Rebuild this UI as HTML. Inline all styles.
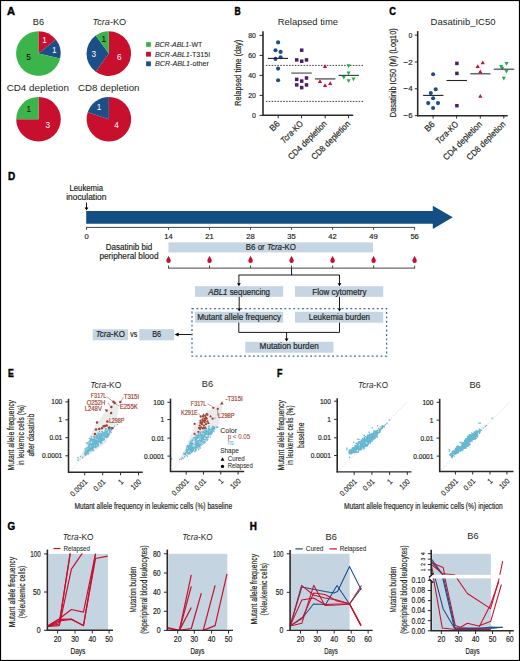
<!DOCTYPE html>
<html><head><meta charset="utf-8"><title>Figure</title>
<style>html,body{margin:0;padding:0;background:#fff;}body{width:520px;height:661px;overflow:hidden;font-family:"Liberation Sans",sans-serif;}svg{display:block;}</style>
</head><body>
<svg width="520" height="661" viewBox="0 0 520 661" font-family="Liberation Sans, sans-serif" fill="#231f20">
<style>text{stroke:#231f20;stroke-width:0.18px}</style>
<rect x="0" y="0" width="520" height="661" fill="#fff"/>
<text x="7.1" y="14.8" font-size="10.3" font-weight="bold" fill="#000" style="stroke:#000;stroke-width:0.4px" textLength="8.02" lengthAdjust="spacingAndGlyphs">A</text>
<text x="38.4" y="24.9" font-size="9.2" text-anchor="middle" style="stroke-width:0px" >B6</text>
<text x="92.5" y="25" font-size="9.2" style="stroke-width:0" textLength="33.7" lengthAdjust="spacingAndGlyphs"><tspan font-style="italic">Tcra</tspan>-KO</text>
<text x="6.7" y="90.8" font-size="9.2" style="stroke-width:0px" textLength="62.2" lengthAdjust="spacingAndGlyphs" >CD4 depletion</text>
<text x="78.1" y="90.8" font-size="9.2" style="stroke-width:0px" textLength="61.4" lengthAdjust="spacingAndGlyphs" >CD8 depletion</text>
<path d="M38.4 53.5 L38.4 31.2 A22.3 22.3 0 0 1 55.83 39.6 Z" fill="#c8102e"/>
<path d="M38.4 53.5 L55.83 39.6 A22.3 22.3 0 0 1 60.14 58.46 Z" fill="#1c4f88"/>
<path d="M38.4 53.5 L60.14 58.46 A22.3 22.3 0 1 1 38.4 31.2 Z" fill="#3bb54a"/>
<path d="M108.8 53.6 L108.8 31.3 A22.3 22.3 0 1 1 95.69 71.64 Z" fill="#c8102e"/>
<path d="M108.8 53.6 L95.69 71.64 A22.3 22.3 0 0 1 95.69 35.56 Z" fill="#1c4f88"/>
<path d="M108.8 53.6 L95.69 35.56 A22.3 22.3 0 0 1 108.8 31.3 Z" fill="#3bb54a"/>
<path d="M38.5 119.2 L38.5 96.9 A22.3 22.3 0 1 1 16.2 119.2 Z" fill="#c8102e"/>
<path d="M38.5 119.2 L16.2 119.2 A22.3 22.3 0 0 1 38.5 96.9 Z" fill="#3bb54a"/>
<path d="M108.9 119.2 L108.9 96.9 A22.3 22.3 0 1 1 87.69 112.31 Z" fill="#c8102e"/>
<path d="M108.9 119.2 L87.69 112.31 A22.3 22.3 0 0 1 108.9 96.9 Z" fill="#1c4f88"/>
<text x="44.6" y="42.9" font-size="8.2" text-anchor="middle" fill="#fff" style="stroke:#fff;stroke-width:0px" >1</text>
<text x="54.4" y="52.7" font-size="8.2" text-anchor="middle" fill="#fff" style="stroke:#fff;stroke-width:0px" >1</text>
<text x="28.5" y="60.4" font-size="8.2" text-anchor="middle" fill="#000" style="stroke:#000;stroke-width:0px" >5</text>
<text x="103.7" y="41.7" font-size="8.2" text-anchor="middle" fill="#000" style="stroke:#000;stroke-width:0px" >1</text>
<text x="93.8" y="57.3" font-size="8.2" text-anchor="middle" fill="#fff" style="stroke:#fff;stroke-width:0px" >3</text>
<text x="119.2" y="60.2" font-size="8.2" text-anchor="middle" fill="#fff" style="stroke:#fff;stroke-width:0px" >6</text>
<text x="28.8" y="112.1" font-size="8.2" text-anchor="middle" fill="#000" style="stroke:#000;stroke-width:0px" >1</text>
<text x="47.7" y="128.2" font-size="8.2" text-anchor="middle" fill="#fff" style="stroke:#fff;stroke-width:0px" >3</text>
<text x="99.1" y="110.2" font-size="8.2" text-anchor="middle" fill="#fff" style="stroke:#fff;stroke-width:0px" >1</text>
<text x="116.6" y="128.2" font-size="8.2" text-anchor="middle" fill="#fff" style="stroke:#fff;stroke-width:0px" >4</text>
<rect x="146.1" y="42.1" width="4.8" height="4.8" fill="#3bb54a" />
<text x="154.9" y="46.8" font-size="6.7" style="stroke-width:0.08px" textLength="47.4" lengthAdjust="spacingAndGlyphs"><tspan font-style="italic">BCR-ABL1</tspan>-WT</text>
<rect x="146.1" y="51.8" width="4.8" height="4.8" fill="#c8102e" />
<text x="154.9" y="56.5" font-size="6.7" style="stroke-width:0.08px" textLength="55.3" lengthAdjust="spacingAndGlyphs"><tspan font-style="italic">BCR-ABL1</tspan>-T315I</text>
<rect x="146.1" y="61.4" width="4.8" height="4.8" fill="#1c4f88" />
<text x="154.9" y="66.1" font-size="6.7" style="stroke-width:0.08px" textLength="54" lengthAdjust="spacingAndGlyphs"><tspan font-style="italic">BCR-ABL1</tspan>-other</text>
<text x="234.5" y="14.9" font-size="10.3" font-weight="bold" fill="#000" style="stroke:#000;stroke-width:0.4px" textLength="6.22" lengthAdjust="spacingAndGlyphs">B</text>
<text x="277.8" y="25" font-size="9.2" style="stroke-width:0px" textLength="60.2" lengthAdjust="spacingAndGlyphs" >Relapsed time</text>
<text transform="translate(240.8 72.75) rotate(-90)" font-size="8.8" text-anchor="middle" textLength="66" lengthAdjust="spacingAndGlyphs">Relapsed time (day)</text>
<line x1="265.8" y1="65.4" x2="364.5" y2="65.4" stroke="#111" stroke-width="0.8" stroke-dasharray="1.6 1.3"/>
<line x1="265.8" y1="101.4" x2="364.5" y2="101.4" stroke="#111" stroke-width="0.8" stroke-dasharray="1.6 1.3"/>
<line x1="259.6" y1="35.4" x2="263" y2="35.4" stroke="#2a2a2a" stroke-width="1" />
<text x="255.9" y="38" font-size="8" text-anchor="end" textLength="7.7" lengthAdjust="spacingAndGlyphs" >80</text>
<line x1="259.6" y1="55.4" x2="263" y2="55.4" stroke="#2a2a2a" stroke-width="1" />
<text x="255.9" y="58" font-size="8" text-anchor="end" textLength="7.7" lengthAdjust="spacingAndGlyphs" >60</text>
<line x1="259.6" y1="75.4" x2="263" y2="75.4" stroke="#2a2a2a" stroke-width="1" />
<text x="255.9" y="78" font-size="8" text-anchor="end" textLength="7.7" lengthAdjust="spacingAndGlyphs" >40</text>
<line x1="259.6" y1="95.4" x2="263" y2="95.4" stroke="#2a2a2a" stroke-width="1" />
<text x="255.9" y="98" font-size="8" text-anchor="end" textLength="7.7" lengthAdjust="spacingAndGlyphs" >20</text>
<line x1="259.6" y1="115.4" x2="263" y2="115.4" stroke="#2a2a2a" stroke-width="1" />
<text x="255.9" y="118" font-size="8" text-anchor="end" textLength="3.9" lengthAdjust="spacingAndGlyphs" >0</text>
<line x1="263" y1="31.2" x2="263" y2="115.9" stroke="#2a2a2a" stroke-width="1.6" />
<line x1="262.5" y1="115.2" x2="353.2" y2="115.2" stroke="#2a2a2a" stroke-width="1.4" />
<line x1="278.2" y1="115.2" x2="278.2" y2="118.3" stroke="#2a2a2a" stroke-width="1" />
<line x1="301.5" y1="115.2" x2="301.5" y2="118.3" stroke="#2a2a2a" stroke-width="1" />
<line x1="325.2" y1="115.2" x2="325.2" y2="118.3" stroke="#2a2a2a" stroke-width="1" />
<line x1="348.6" y1="115.2" x2="348.6" y2="118.3" stroke="#2a2a2a" stroke-width="1" />
<circle cx="278.1" cy="42.4" r="2.05" fill="#1c4f88"/>
<circle cx="275.5" cy="50.2" r="2.05" fill="#1c4f88"/>
<circle cx="280.6" cy="51.9" r="2.05" fill="#1c4f88"/>
<circle cx="280.6" cy="57.3" r="2.05" fill="#1c4f88"/>
<circle cx="275.5" cy="58.9" r="2.05" fill="#1c4f88"/>
<circle cx="278.1" cy="68.6" r="2.05" fill="#1c4f88"/>
<circle cx="278.1" cy="80.2" r="2.05" fill="#1c4f88"/>
<line x1="267.8" y1="58.4" x2="288" y2="58.4" stroke="#222" stroke-width="1.1" />
<rect x="299.95" y="48.45" width="3.5" height="3.5" fill="#4b1c6b" />
<rect x="294.95" y="58.15" width="3.5" height="3.5" fill="#4b1c6b" />
<rect x="299.95" y="59.45" width="3.5" height="3.5" fill="#4b1c6b" />
<rect x="304.75" y="58.15" width="3.5" height="3.5" fill="#4b1c6b" />
<rect x="304.75" y="76.25" width="3.5" height="3.5" fill="#4b1c6b" />
<rect x="294.95" y="77.65" width="3.5" height="3.5" fill="#4b1c6b" />
<rect x="299.95" y="79.35" width="3.5" height="3.5" fill="#4b1c6b" />
<rect x="294.95" y="83.15" width="3.5" height="3.5" fill="#4b1c6b" />
<rect x="304.75" y="83.15" width="3.5" height="3.5" fill="#4b1c6b" />
<rect x="299.95" y="85.85" width="3.5" height="3.5" fill="#4b1c6b" />
<line x1="291.3" y1="73.1" x2="311.8" y2="73.1" stroke="#777" stroke-width="1.5" />
<polygon points="325,64.33 327.1,68.11 322.9,68.11" fill="#c8102e" />
<polygon points="320,79.23 322.1,83.01 317.9,83.01" fill="#c8102e" />
<polygon points="325,83.13 327.1,86.91 322.9,86.91" fill="#c8102e" />
<polygon points="330.2,81.23 332.3,85.01 328.1,85.01" fill="#c8102e" />
<line x1="314.9" y1="78.9" x2="335.4" y2="78.9" stroke="#666" stroke-width="1.5" />
<polygon points="348.6,67.97 350.7,64.19 346.5,64.19" fill="#22b04a" />
<polygon points="348.6,75.37 350.7,71.59 346.5,71.59" fill="#22b04a" />
<polygon points="343.7,79.47 345.8,75.69 341.6,75.69" fill="#22b04a" />
<polygon points="348.6,83.07 350.7,79.29 346.5,79.29" fill="#22b04a" />
<polygon points="353.5,81.17 355.6,77.39 351.4,77.39" fill="#22b04a" />
<line x1="338.5" y1="75.4" x2="358.9" y2="75.4" stroke="#444" stroke-width="1.2" />
<text transform="translate(280.5 124.3) rotate(-45)" font-size="8.8" text-anchor="end" textLength="10.5" lengthAdjust="spacingAndGlyphs">B6</text>
<text transform="translate(303.8 124.3) rotate(-45)" font-size="8.8" text-anchor="end" textLength="28" lengthAdjust="spacingAndGlyphs"><tspan font-style="italic">Tcra</tspan>-KO</text>
<text transform="translate(327.5 124.3) rotate(-45)" font-size="8.8" text-anchor="end" textLength="51" lengthAdjust="spacingAndGlyphs">CD4 depletion</text>
<text transform="translate(350.9 124.3) rotate(-45)" font-size="8.8" text-anchor="end" textLength="51" lengthAdjust="spacingAndGlyphs">CD8 depletion</text>
<text x="389.2" y="15" font-size="10.3" font-weight="bold" fill="#000" style="stroke:#000;stroke-width:0.4px" textLength="6.72" lengthAdjust="spacingAndGlyphs">C</text>
<text x="430.6" y="24.8" font-size="9.2" style="stroke-width:0px" textLength="64.9" lengthAdjust="spacingAndGlyphs" >Dasatinib_IC50</text>
<text transform="translate(396.3 72.7) rotate(-90)" font-size="8.8" text-anchor="middle" textLength="89" lengthAdjust="spacingAndGlyphs">Dasatinib IC50 (M) (Log10)</text>
<line x1="414.8" y1="35.1" x2="417.7" y2="35.1" stroke="#2a2a2a" stroke-width="1" />
<text x="412.5" y="37.7" font-size="8" text-anchor="end" textLength="3.9" lengthAdjust="spacingAndGlyphs" >0</text>
<line x1="414.8" y1="61.96" x2="417.7" y2="61.96" stroke="#2a2a2a" stroke-width="1" />
<text x="412.5" y="64.56" font-size="8" text-anchor="end" textLength="8.9" lengthAdjust="spacingAndGlyphs" >&#8722;2</text>
<line x1="414.8" y1="88.82" x2="417.7" y2="88.82" stroke="#2a2a2a" stroke-width="1" />
<text x="412.5" y="91.42" font-size="8" text-anchor="end" textLength="8.9" lengthAdjust="spacingAndGlyphs" >&#8722;4</text>
<line x1="414.8" y1="115.68" x2="417.7" y2="115.68" stroke="#2a2a2a" stroke-width="1" />
<text x="412.5" y="118.28" font-size="8" text-anchor="end" textLength="8.9" lengthAdjust="spacingAndGlyphs" >&#8722;6</text>
<line x1="417.7" y1="31.1" x2="417.7" y2="116.3" stroke="#2a2a2a" stroke-width="1.6" />
<line x1="417.2" y1="115.7" x2="507.7" y2="115.7" stroke="#2a2a2a" stroke-width="1.4" />
<line x1="433.1" y1="115.7" x2="433.1" y2="118.5" stroke="#2a2a2a" stroke-width="1" />
<line x1="456.6" y1="115.7" x2="456.6" y2="118.5" stroke="#2a2a2a" stroke-width="1" />
<line x1="480.3" y1="115.7" x2="480.3" y2="118.5" stroke="#2a2a2a" stroke-width="1" />
<line x1="503.8" y1="115.7" x2="503.8" y2="118.5" stroke="#2a2a2a" stroke-width="1" />
<circle cx="433.1" cy="74.3" r="2.05" fill="#1c4f88"/>
<circle cx="435.7" cy="89.2" r="2.05" fill="#1c4f88"/>
<circle cx="430.8" cy="93.1" r="2.05" fill="#1c4f88"/>
<circle cx="433.1" cy="98.2" r="2.05" fill="#1c4f88"/>
<circle cx="428.2" cy="103.1" r="2.05" fill="#1c4f88"/>
<circle cx="438" cy="103.1" r="2.05" fill="#1c4f88"/>
<circle cx="433.1" cy="108" r="2.05" fill="#1c4f88"/>
<line x1="423.1" y1="95.4" x2="443.4" y2="95.4" stroke="#222" stroke-width="1.1" />
<rect x="455.15" y="61.65" width="3.5" height="3.5" fill="#4b1c6b" />
<rect x="455.15" y="71.65" width="3.5" height="3.5" fill="#4b1c6b" />
<rect x="455.15" y="103.95" width="3.5" height="3.5" fill="#4b1c6b" />
<line x1="446.5" y1="80.5" x2="466.9" y2="80.5" stroke="#222" stroke-width="1.1" />
<polygon points="482.8,60.53 484.9,64.31 480.7,64.31" fill="#c8102e" />
<polygon points="477.7,64.23 479.8,68.01 475.6,68.01" fill="#c8102e" />
<polygon points="480.3,69.53 482.4,73.31 478.2,73.31" fill="#c8102e" />
<polygon points="480.3,93.93 482.4,97.71 478.2,97.71" fill="#c8102e" />
<line x1="470.3" y1="73.8" x2="490.5" y2="73.8" stroke="#444" stroke-width="1.2" />
<polygon points="501.2,68.67 503.3,64.89 499.1,64.89" fill="#22b04a" />
<polygon points="502.2,70.47 504.3,66.69 500.1,66.69" fill="#22b04a" />
<polygon points="506.5,65.67 508.6,61.89 504.4,61.89" fill="#22b04a" />
<polygon points="506.5,73.47 508.6,69.69 504.4,69.69" fill="#22b04a" />
<polygon points="503.8,80.47 505.9,76.69 501.7,76.69" fill="#22b04a" />
<line x1="493.8" y1="69.2" x2="514.2" y2="69.2" stroke="#444" stroke-width="1.2" />
<text transform="translate(435.4 124.8) rotate(-45)" font-size="8.8" text-anchor="end" textLength="10.5" lengthAdjust="spacingAndGlyphs">B6</text>
<text transform="translate(458.9 124.8) rotate(-45)" font-size="8.8" text-anchor="end" textLength="28" lengthAdjust="spacingAndGlyphs"><tspan font-style="italic">Tcra</tspan>-KO</text>
<text transform="translate(482.6 124.8) rotate(-45)" font-size="8.8" text-anchor="end" textLength="51" lengthAdjust="spacingAndGlyphs">CD4 depletion</text>
<text transform="translate(506.1 124.8) rotate(-45)" font-size="8.8" text-anchor="end" textLength="51" lengthAdjust="spacingAndGlyphs">CD8 depletion</text>
<text x="7.9" y="179.7" font-size="10.3" font-weight="bold" fill="#000" style="stroke:#000;stroke-width:0.4px" textLength="7.22" lengthAdjust="spacingAndGlyphs">D</text>
<text x="86.3" y="190.8" font-size="8.2" text-anchor="middle" textLength="33.6" lengthAdjust="spacingAndGlyphs" >Leukemia</text>
<text x="86.3" y="199.6" font-size="8.2" text-anchor="middle" textLength="40.2" lengthAdjust="spacingAndGlyphs" >inoculation</text>
<line x1="86.5" y1="202.6" x2="86.5" y2="208.32" stroke="#000" stroke-width="0.9" />
<polygon points="84.6,207.56 88.4,207.56 86.5,210.6" fill="#000" />
<polygon points="86.2,211 432.8,211 432.8,205.8 452.8,217.3 432.8,229 432.8,223.7 86.2,223.7" fill="#134f83" />
<line x1="86.2" y1="227.4" x2="414.9" y2="227.4" stroke="#444" stroke-width="1" />
<line x1="86.5" y1="227" x2="86.5" y2="229.8" stroke="#444" stroke-width="1" />
<text x="86.5" y="239.3" font-size="8" text-anchor="middle" textLength="4.23" lengthAdjust="spacingAndGlyphs" >0</text>
<line x1="168.53" y1="227" x2="168.53" y2="229.8" stroke="#444" stroke-width="1" />
<text x="168.53" y="239.3" font-size="8" text-anchor="middle" textLength="8.45" lengthAdjust="spacingAndGlyphs" >14</text>
<line x1="209.54" y1="227" x2="209.54" y2="229.8" stroke="#444" stroke-width="1" />
<text x="209.54" y="239.3" font-size="8" text-anchor="middle" textLength="8.45" lengthAdjust="spacingAndGlyphs" >21</text>
<line x1="250.55" y1="227" x2="250.55" y2="229.8" stroke="#444" stroke-width="1" />
<text x="250.55" y="239.3" font-size="8" text-anchor="middle" textLength="8.45" lengthAdjust="spacingAndGlyphs" >28</text>
<line x1="291.56" y1="227" x2="291.56" y2="229.8" stroke="#444" stroke-width="1" />
<text x="291.56" y="239.3" font-size="8" text-anchor="middle" textLength="8.45" lengthAdjust="spacingAndGlyphs" >35</text>
<line x1="332.58" y1="227" x2="332.58" y2="229.8" stroke="#444" stroke-width="1" />
<text x="332.58" y="239.3" font-size="8" text-anchor="middle" textLength="8.45" lengthAdjust="spacingAndGlyphs" >42</text>
<line x1="373.59" y1="227" x2="373.59" y2="229.8" stroke="#444" stroke-width="1" />
<text x="373.59" y="239.3" font-size="8" text-anchor="middle" textLength="8.45" lengthAdjust="spacingAndGlyphs" >49</text>
<line x1="414.6" y1="227" x2="414.6" y2="229.8" stroke="#444" stroke-width="1" />
<text x="414.6" y="239.3" font-size="8" text-anchor="middle" textLength="8.45" lengthAdjust="spacingAndGlyphs" >56</text>
<text x="129" y="249.9" font-size="8.3" text-anchor="middle" textLength="46.4" lengthAdjust="spacingAndGlyphs" >Dasatinib bid</text>
<text x="129" y="259.3" font-size="8.3" text-anchor="middle" textLength="59.1" lengthAdjust="spacingAndGlyphs" >peripheral blood</text>
<rect x="168.5" y="242.4" width="204.5" height="10" fill="#c5d5e3" />
<text x="245.8" y="250" font-size="8.4" textLength="50.2" lengthAdjust="spacingAndGlyphs">B6 or <tspan font-style="italic">Tcra</tspan>-KO</text>
<path d="M168.53 255.8 C169.03 257.6 170.78 259.3 170.78 260.8 A2.25 2.25 0 0 1 166.28 260.8 C166.28 259.3 168.03 257.6 168.53 255.8 Z" fill="#c8102e"/>
<path d="M209.54 255.8 C210.04 257.6 211.79 259.3 211.79 260.8 A2.25 2.25 0 0 1 207.29 260.8 C207.29 259.3 209.04 257.6 209.54 255.8 Z" fill="#c8102e"/>
<path d="M250.55 255.8 C251.05 257.6 252.8 259.3 252.8 260.8 A2.25 2.25 0 0 1 248.3 260.8 C248.3 259.3 250.05 257.6 250.55 255.8 Z" fill="#c8102e"/>
<path d="M291.56 255.8 C292.06 257.6 293.81 259.3 293.81 260.8 A2.25 2.25 0 0 1 289.31 260.8 C289.31 259.3 291.06 257.6 291.56 255.8 Z" fill="#c8102e"/>
<path d="M332.58 255.8 C333.08 257.6 334.83 259.3 334.83 260.8 A2.25 2.25 0 0 1 330.33 260.8 C330.33 259.3 332.08 257.6 332.58 255.8 Z" fill="#c8102e"/>
<path d="M373.59 255.8 C374.09 257.6 375.84 259.3 375.84 260.8 A2.25 2.25 0 0 1 371.34 260.8 C371.34 259.3 373.09 257.6 373.59 255.8 Z" fill="#c8102e"/>
<path d="M414.6 255.8 C415.1 257.6 416.85 259.3 416.85 260.8 A2.25 2.25 0 0 1 412.35 260.8 C412.35 259.3 414.1 257.6 414.6 255.8 Z" fill="#c8102e"/>
<line x1="168" y1="268.1" x2="415.1" y2="268.1" stroke="#444" stroke-width="1" />
<line x1="168.53" y1="265.6" x2="168.53" y2="268.1" stroke="#444" stroke-width="1" />
<line x1="209.54" y1="265.6" x2="209.54" y2="268.1" stroke="#444" stroke-width="1" />
<line x1="250.55" y1="265.6" x2="250.55" y2="268.1" stroke="#444" stroke-width="1" />
<line x1="291.56" y1="265.6" x2="291.56" y2="268.1" stroke="#444" stroke-width="1" />
<line x1="332.58" y1="265.6" x2="332.58" y2="268.1" stroke="#444" stroke-width="1" />
<line x1="373.59" y1="265.6" x2="373.59" y2="268.1" stroke="#444" stroke-width="1" />
<line x1="414.6" y1="265.6" x2="414.6" y2="268.1" stroke="#444" stroke-width="1" />
<line x1="291.56" y1="268.1" x2="291.56" y2="275" stroke="#000" stroke-width="0.9" />
<line x1="238.7" y1="275" x2="339.5" y2="275" stroke="#000" stroke-width="0.9" />
<line x1="238.9" y1="275" x2="238.9" y2="283.92" stroke="#000" stroke-width="0.9" />
<polygon points="237,283.16 240.8,283.16 238.9,286.2" fill="#000" />
<line x1="339.5" y1="275" x2="339.5" y2="283.92" stroke="#000" stroke-width="0.9" />
<polygon points="337.6,283.16 341.4,283.16 339.5,286.2" fill="#000" />
<rect x="195" y="286.2" width="88.2" height="10.6" fill="#c5d5e3" />
<rect x="295" y="286.2" width="88.2" height="10.6" fill="#c5d5e3" />
<text x="208.2" y="294.5" font-size="8.4" textLength="61.8" lengthAdjust="spacingAndGlyphs"><tspan font-style="italic">ABL1</tspan> sequencing</text>
<text x="312.3" y="294.5" font-size="8.4" textLength="54.2" lengthAdjust="spacingAndGlyphs" >Flow cytometry</text>
<line x1="239.2" y1="296.8" x2="239.2" y2="309.32" stroke="#000" stroke-width="0.9" />
<polygon points="237.3,308.56 241.1,308.56 239.2,311.6" fill="#000" />
<line x1="339.5" y1="296.8" x2="339.5" y2="309.32" stroke="#000" stroke-width="0.9" />
<polygon points="337.6,308.56 341.4,308.56 339.5,311.6" fill="#000" />
<rect x="195" y="311.8" width="88.2" height="10.9" fill="#c5d5e3" />
<rect x="295" y="311.8" width="88.2" height="10.9" fill="#c5d5e3" />
<text x="197.3" y="320" font-size="8.4" textLength="83.8" lengthAdjust="spacingAndGlyphs" >Mutant allele frequency</text>
<text x="308.8" y="320" font-size="8.4" textLength="61.2" lengthAdjust="spacingAndGlyphs" >Leukemia burden</text>
<polyline points="238.8,322.7 238.8,332.4 339.5,332.4 339.5,322.7" fill="none" stroke="#000" stroke-width="0.9" stroke-linejoin="round" />
<line x1="286.6" y1="332.4" x2="286.6" y2="339.32" stroke="#000" stroke-width="0.9" />
<polygon points="284.7,338.56 288.5,338.56 286.6,341.6" fill="#000" />
<rect x="245.3" y="341.8" width="88.2" height="10.9" fill="#c5d5e3" />
<text x="259.6" y="349.3" font-size="8.4" textLength="59.2" lengthAdjust="spacingAndGlyphs" >Mutation burden</text>
<rect x="192" y="308.6" width="194.6" height="47.6" fill="none" stroke="#3a70a8" stroke-width="1.25" stroke-dasharray="1.9 2.5"/>
<line x1="191.5" y1="334.5" x2="177.5" y2="334.5" stroke="#000" stroke-width="0.9" />
<polygon points="174.6,334.5 178.6,332.6 178.6,336.4" fill="#000" />
<rect x="92.7" y="329.2" width="35.3" height="11.1" fill="#c5d5e3" />
<rect x="139.3" y="329.2" width="34.9" height="11.1" fill="#c5d5e3" />
<text x="95.7" y="337.3" font-size="8.4" textLength="29.3" lengthAdjust="spacingAndGlyphs"><tspan font-style="italic">Tcra</tspan>-KO</text>
<text x="130.3" y="337.3" font-size="8.4" textLength="6.9" lengthAdjust="spacingAndGlyphs" >vs</text>
<text x="152.2" y="337.3" font-size="8.4" textLength="9" lengthAdjust="spacingAndGlyphs" >B6</text>
<text x="8" y="377.4" font-size="10.3" font-weight="bold" fill="#000" style="stroke:#000;stroke-width:0.4px" textLength="5.82" lengthAdjust="spacingAndGlyphs">E</text>
<text x="90.2" y="387.5" font-size="9.2" style="stroke-width:0" textLength="31" lengthAdjust="spacingAndGlyphs"><tspan font-style="italic">Tcra</tspan>-KO</text>
<text x="207.4" y="387.3" font-size="9.2" text-anchor="middle" style="stroke-width:0px" >B6</text>
<text transform="translate(14.4 435.2) rotate(-90)" font-size="8.8" text-anchor="middle" textLength="70.4" lengthAdjust="spacingAndGlyphs">Mutant allele frequency</text>
<text transform="translate(24.1 435.2) rotate(-90)" font-size="8.8" text-anchor="middle" textLength="60.5" lengthAdjust="spacingAndGlyphs">in leukemic cells (%)</text>
<text transform="translate(33.9 435.2) rotate(-90)" font-size="8.8" text-anchor="middle" textLength="42.8" lengthAdjust="spacingAndGlyphs">after dasatinib</text>
<text x="74.4" y="508.6" font-size="9" textLength="157.8" lengthAdjust="spacingAndGlyphs" >Mutant allele frequency in leukemic cells (%) baseline</text>
<polygon points="77.4,461.5 85.9,445.6 95.4,424.4 104.9,412.8 112.3,404.3 116.5,401.2 118.6,408.6 115.5,424.9 111,432 106,443.1 96,450 91.3,453.5 83,458.5" fill="#ebebeb" />
<line x1="68.5" y1="472.3" x2="142.7" y2="398.1" stroke="#c8c8c8" stroke-width="0.6" stroke-dasharray="1.2 1.2"/>
<path d="M98.15 437.33h1.25v1.25h-1.25zM99.32 438.22h1.25v1.25h-1.25zM110.7 428.21h1.25v1.25h-1.25zM88.03 443.51h1.25v1.25h-1.25zM101.08 437.53h1.25v1.25h-1.25zM102.27 439.1h1.25v1.25h-1.25zM91.83 443.62h1.25v1.25h-1.25zM95.79 435.45h1.25v1.25h-1.25zM89.83 443.3h1.25v1.25h-1.25zM103.66 435.11h1.25v1.25h-1.25zM99.4 439.92h1.25v1.25h-1.25zM96.39 445.87h1.25v1.25h-1.25zM106.3 435.01h1.25v1.25h-1.25zM93.87 446h1.25v1.25h-1.25zM90.81 438.75h1.25v1.25h-1.25zM89.53 440.74h1.25v1.25h-1.25zM99.67 434.39h1.25v1.25h-1.25zM93.4 443.07h1.25v1.25h-1.25zM97.57 444.54h1.25v1.25h-1.25zM94.06 438.29h1.25v1.25h-1.25zM96.16 440.71h1.25v1.25h-1.25zM106.5 431.49h1.25v1.25h-1.25zM87.64 448.95h1.25v1.25h-1.25zM89.34 441.68h1.25v1.25h-1.25zM90.26 446.68h1.25v1.25h-1.25zM87.96 449.44h1.25v1.25h-1.25zM103.53 431.74h1.25v1.25h-1.25zM87.04 450.51h1.25v1.25h-1.25zM92.86 442.57h1.25v1.25h-1.25zM106.42 432.91h1.25v1.25h-1.25zM89.73 443.65h1.25v1.25h-1.25zM90.27 438.86h1.25v1.25h-1.25zM86.61 452.9h1.25v1.25h-1.25zM92.96 439.98h1.25v1.25h-1.25zM97.17 442.09h1.25v1.25h-1.25zM92.17 441.7h1.25v1.25h-1.25zM100.33 441.33h1.25v1.25h-1.25zM95.77 442.13h1.25v1.25h-1.25zM106.81 430.8h1.25v1.25h-1.25zM87.28 447.36h1.25v1.25h-1.25zM101.69 430.96h1.25v1.25h-1.25zM94.23 440.81h1.25v1.25h-1.25zM97.57 436.57h1.25v1.25h-1.25zM98.67 439.47h1.25v1.25h-1.25zM100.66 441.53h1.25v1.25h-1.25zM106.22 434.27h1.25v1.25h-1.25zM102.49 439.04h1.25v1.25h-1.25zM84.94 453.71h1.25v1.25h-1.25zM85.26 451.36h1.25v1.25h-1.25zM84.77 451.55h1.25v1.25h-1.25zM95.81 436.57h1.25v1.25h-1.25zM97.89 433.69h1.25v1.25h-1.25zM104.52 435.17h1.25v1.25h-1.25zM109.51 429.91h1.25v1.25h-1.25zM94.08 441.37h1.25v1.25h-1.25zM94.41 436.81h1.25v1.25h-1.25zM85.28 450.94h1.25v1.25h-1.25zM91.23 440.02h1.25v1.25h-1.25zM96.4 441.25h1.25v1.25h-1.25zM88.6 441.31h1.25v1.25h-1.25zM99.56 442.01h1.25v1.25h-1.25zM93.98 436.2h1.25v1.25h-1.25zM85.87 450.78h1.25v1.25h-1.25zM97.21 442.18h1.25v1.25h-1.25zM103.87 434.09h1.25v1.25h-1.25zM103.66 432.74h1.25v1.25h-1.25zM96.95 437.82h1.25v1.25h-1.25zM104.06 435.58h1.25v1.25h-1.25zM102.13 435.19h1.25v1.25h-1.25zM97.6 440.16h1.25v1.25h-1.25zM108.34 432.57h1.25v1.25h-1.25zM88.88 443.51h1.25v1.25h-1.25zM95.72 435.51h1.25v1.25h-1.25zM106.79 430.31h1.25v1.25h-1.25zM93.48 438.11h1.25v1.25h-1.25zM93.16 439.12h1.25v1.25h-1.25zM85.77 450.75h1.25v1.25h-1.25zM109.29 430.52h1.25v1.25h-1.25zM96.33 436.7h1.25v1.25h-1.25zM91.36 448.01h1.25v1.25h-1.25zM101.57 435.48h1.25v1.25h-1.25zM98.76 438.15h1.25v1.25h-1.25zM94.67 441.87h1.25v1.25h-1.25zM93.62 436.55h1.25v1.25h-1.25zM97.22 444.88h1.25v1.25h-1.25zM107.47 433.05h1.25v1.25h-1.25zM94.27 439.63h1.25v1.25h-1.25zM95.91 442.65h1.25v1.25h-1.25zM101.27 435.56h1.25v1.25h-1.25zM97.82 443.55h1.25v1.25h-1.25zM91.47 440.05h1.25v1.25h-1.25zM92.51 438.9h1.25v1.25h-1.25zM102.33 432.54h1.25v1.25h-1.25zM106.25 433.48h1.25v1.25h-1.25zM89.19 448.62h1.25v1.25h-1.25zM101.81 437.7h1.25v1.25h-1.25zM110.11 430.41h1.25v1.25h-1.25zM90.35 447.37h1.25v1.25h-1.25zM109.76 427.57h1.25v1.25h-1.25zM89.54 440.47h1.25v1.25h-1.25zM95.13 440.99h1.25v1.25h-1.25zM100.18 436.25h1.25v1.25h-1.25zM88.5 448.41h1.25v1.25h-1.25zM106.84 435.28h1.25v1.25h-1.25zM99.03 437.54h1.25v1.25h-1.25zM103.91 432.57h1.25v1.25h-1.25zM87.24 452.16h1.25v1.25h-1.25zM99.36 436.21h1.25v1.25h-1.25zM90.28 449.12h1.25v1.25h-1.25zM109.83 429.9h1.25v1.25h-1.25zM90.14 444.02h1.25v1.25h-1.25zM101.45 432.69h1.25v1.25h-1.25zM102.21 432.17h1.25v1.25h-1.25zM94.14 442.61h1.25v1.25h-1.25zM87.54 446.76h1.25v1.25h-1.25zM91.78 443.08h1.25v1.25h-1.25zM93.05 438.79h1.25v1.25h-1.25zM103.62 432.7h1.25v1.25h-1.25zM93.44 441.3h1.25v1.25h-1.25zM106.37 431.46h1.25v1.25h-1.25zM105.27 433.23h1.25v1.25h-1.25zM106.51 432.11h1.25v1.25h-1.25zM97.63 437.85h1.25v1.25h-1.25zM106.76 430.24h1.25v1.25h-1.25zM99.96 442.61h1.25v1.25h-1.25zM100.75 435.63h1.25v1.25h-1.25zM94.85 443.54h1.25v1.25h-1.25zM95.01 445.72h1.25v1.25h-1.25zM95.61 439.41h1.25v1.25h-1.25zM97.24 437.68h1.25v1.25h-1.25zM108.98 431.6h1.25v1.25h-1.25zM104.43 431.42h1.25v1.25h-1.25zM106.12 430.98h1.25v1.25h-1.25zM97.3 436h1.25v1.25h-1.25zM87.68 449.32h1.25v1.25h-1.25zM101.01 437.16h1.25v1.25h-1.25zM100.82 438.15h1.25v1.25h-1.25zM105.61 434.45h1.25v1.25h-1.25zM106.24 434.13h1.25v1.25h-1.25zM100.43 439.24h1.25v1.25h-1.25zM89.27 443.57h1.25v1.25h-1.25zM99.66 432.71h1.25v1.25h-1.25zM100.66 440.46h1.25v1.25h-1.25zM98.9 436.89h1.25v1.25h-1.25zM101.27 439.57h1.25v1.25h-1.25zM109.69 430.94h1.25v1.25h-1.25zM88.56 444.27h1.25v1.25h-1.25zM97.32 445.22h1.25v1.25h-1.25zM106.06 431.87h1.25v1.25h-1.25zM92.44 448.32h1.25v1.25h-1.25zM103.16 434.48h1.25v1.25h-1.25zM98.66 439.35h1.25v1.25h-1.25zM90.44 445.24h1.25v1.25h-1.25zM104.14 436.22h1.25v1.25h-1.25zM99.13 435.68h1.25v1.25h-1.25zM88.92 444.68h1.25v1.25h-1.25zM85.09 452.92h1.25v1.25h-1.25zM85.92 453.44h1.25v1.25h-1.25zM84.75 451.69h1.25v1.25h-1.25zM100.87 435.09h1.25v1.25h-1.25zM104.46 432.74h1.25v1.25h-1.25zM91.97 438.99h1.25v1.25h-1.25zM90.93 447.35h1.25v1.25h-1.25zM92.76 447.03h1.25v1.25h-1.25zM98.2 433.07h1.25v1.25h-1.25zM107.45 429.47h1.25v1.25h-1.25zM106.24 431.75h1.25v1.25h-1.25zM100.77 437.05h1.25v1.25h-1.25zM94.31 438.16h1.25v1.25h-1.25zM108.25 429.34h1.25v1.25h-1.25zM89.53 440.06h1.25v1.25h-1.25zM87.3 450.99h1.25v1.25h-1.25zM108.1 433.68h1.25v1.25h-1.25zM88.47 445.12h1.25v1.25h-1.25zM100.9 440.12h1.25v1.25h-1.25zM101.16 439.86h1.25v1.25h-1.25zM91.8 444.84h1.25v1.25h-1.25zM100.82 434.03h1.25v1.25h-1.25zM94.95 439.89h1.25v1.25h-1.25zM100.59 438.58h1.25v1.25h-1.25zM88.09 445.59h1.25v1.25h-1.25zM87.46 449.23h1.25v1.25h-1.25zM88.86 446.45h1.25v1.25h-1.25zM90.69 438.31h1.25v1.25h-1.25zM94.86 446.85h1.25v1.25h-1.25zM89.27 448.08h1.25v1.25h-1.25zM89.11 449.8h1.25v1.25h-1.25zM86.56 449.09h1.25v1.25h-1.25zM96.25 442.95h1.25v1.25h-1.25zM92.94 445.14h1.25v1.25h-1.25zM96.22 435.29h1.25v1.25h-1.25zM107.12 434.52h1.25v1.25h-1.25zM91.48 440.59h1.25v1.25h-1.25zM95.09 445.1h1.25v1.25h-1.25zM101.66 437.24h1.25v1.25h-1.25zM86.88 450.65h1.25v1.25h-1.25zM101.57 434.03h1.25v1.25h-1.25zM89.53 449.08h1.25v1.25h-1.25zM88.5 446.69h1.25v1.25h-1.25zM98.69 434.44h1.25v1.25h-1.25zM96.88 441.12h1.25v1.25h-1.25zM96.21 442.96h1.25v1.25h-1.25zM93.56 438.85h1.25v1.25h-1.25zM110.25 429.03h1.25v1.25h-1.25zM97.43 440.74h1.25v1.25h-1.25zM93.31 440.45h1.25v1.25h-1.25zM94.91 442.72h1.25v1.25h-1.25zM106.44 435.25h1.25v1.25h-1.25zM97.23 434.65h1.25v1.25h-1.25zM91.4 443.65h1.25v1.25h-1.25zM102.28 432.95h1.25v1.25h-1.25zM101.88 439.97h1.25v1.25h-1.25zM104.61 429.77h1.25v1.25h-1.25zM101.56 437.42h1.25v1.25h-1.25zM98.89 434.25h1.25v1.25h-1.25zM91.48 438.94h1.25v1.25h-1.25zM91.95 439.19h1.25v1.25h-1.25zM101.24 432.95h1.25v1.25h-1.25zM85.39 451.74h1.25v1.25h-1.25zM103.38 433.8h1.25v1.25h-1.25zM103.78 432.23h1.25v1.25h-1.25zM91.74 447.74h1.25v1.25h-1.25zM87.61 451.5h1.25v1.25h-1.25zM93.35 443.32h1.25v1.25h-1.25zM95.38 446.23h1.25v1.25h-1.25zM87 449.68h1.25v1.25h-1.25zM93.23 445.32h1.25v1.25h-1.25zM100.82 438.83h1.25v1.25h-1.25zM99.03 435.24h1.25v1.25h-1.25zM92.34 444.2h1.25v1.25h-1.25zM100.01 435.7h1.25v1.25h-1.25zM93.61 446.46h1.25v1.25h-1.25zM105.89 434.98h1.25v1.25h-1.25zM94.92 443.65h1.25v1.25h-1.25zM99.17 434.71h1.25v1.25h-1.25zM88.59 448.33h1.25v1.25h-1.25zM90.13 448.36h1.25v1.25h-1.25zM85.37 449.94h1.25v1.25h-1.25zM104.88 433.53h1.25v1.25h-1.25zM96.46 443.73h1.25v1.25h-1.25zM88.02 446.93h1.25v1.25h-1.25zM93.22 443.02h1.25v1.25h-1.25zM94.35 441.67h1.25v1.25h-1.25zM105.31 431.34h1.25v1.25h-1.25zM99.9 436.74h1.25v1.25h-1.25zM99.04 434.36h1.25v1.25h-1.25zM108.81 428.71h1.25v1.25h-1.25zM99.92 438.24h1.25v1.25h-1.25zM90.21 443.02h1.25v1.25h-1.25zM101.96 438.12h1.25v1.25h-1.25zM102.17 435.42h1.25v1.25h-1.25zM103.32 432.45h1.25v1.25h-1.25zM83.9 453.41h1.25v1.25h-1.25zM85.64 453.44h1.25v1.25h-1.25zM95.77 436.59h1.25v1.25h-1.25zM87 451.78h1.25v1.25h-1.25zM90.47 438.65h1.25v1.25h-1.25zM84.5 452.47h1.25v1.25h-1.25zM101.92 432.91h1.25v1.25h-1.25zM96.48 435.06h1.25v1.25h-1.25zM108.42 428.52h1.25v1.25h-1.25zM103.58 435.27h1.25v1.25h-1.25zM110.77 427.33h1.25v1.25h-1.25zM88.01 448.91h1.25v1.25h-1.25zM103.16 432.5h1.25v1.25h-1.25zM100.22 441.05h1.25v1.25h-1.25zM103.76 438.55h1.25v1.25h-1.25zM88.18 450.66h1.25v1.25h-1.25zM93.45 443.89h1.25v1.25h-1.25zM95.58 441.62h1.25v1.25h-1.25zM86.32 447.31h1.25v1.25h-1.25zM92.02 447.21h1.25v1.25h-1.25zM84.62 451.84h1.25v1.25h-1.25zM97.5 442.05h1.25v1.25h-1.25zM90.01 450.25h1.25v1.25h-1.25zM102.8 432.45h1.25v1.25h-1.25zM99.3 441.83h1.25v1.25h-1.25zM96.94 441.2h1.25v1.25h-1.25zM104.15 431.57h1.25v1.25h-1.25zM93.95 438.9h1.25v1.25h-1.25zM105.02 436.56h1.25v1.25h-1.25zM89.98 438.95h1.25v1.25h-1.25zM100.91 437.3h1.25v1.25h-1.25zM95.22 441.31h1.25v1.25h-1.25zM101.16 434.48h1.25v1.25h-1.25zM102.21 434.7h1.25v1.25h-1.25zM100.58 434.04h1.25v1.25h-1.25zM97.7 439.28h1.25v1.25h-1.25zM91.58 445.39h1.25v1.25h-1.25zM90.52 440.21h1.25v1.25h-1.25zM91.24 438.5h1.25v1.25h-1.25zM88.61 447.19h1.25v1.25h-1.25zM96.01 442.55h1.25v1.25h-1.25zM100.34 440.29h1.25v1.25h-1.25zM89.19 441.53h1.25v1.25h-1.25zM93.8 443.63h1.25v1.25h-1.25zM107.44 433.7h1.25v1.25h-1.25zM98.74 440.93h1.25v1.25h-1.25zM91.3 448.96h1.25v1.25h-1.25zM92.92 446.19h1.25v1.25h-1.25zM108.94 430.51h1.25v1.25h-1.25zM99.18 438.83h1.25v1.25h-1.25zM100.18 437.73h1.25v1.25h-1.25zM95.77 439.97h1.25v1.25h-1.25zM103.48 435.25h1.25v1.25h-1.25zM94.01 442.76h1.25v1.25h-1.25zM97.11 439.57h1.25v1.25h-1.25zM98.98 441.1h1.25v1.25h-1.25zM97.62 441.67h1.25v1.25h-1.25zM102.4 438.02h1.25v1.25h-1.25zM93.07 443.88h1.25v1.25h-1.25zM94.3 442.93h1.25v1.25h-1.25zM95.42 444.74h1.25v1.25h-1.25zM97.46 441.31h1.25v1.25h-1.25zM91.62 446.63h1.25v1.25h-1.25zM101.92 432.5h1.25v1.25h-1.25zM97.06 442.7h1.25v1.25h-1.25zM90.46 445.37h1.25v1.25h-1.25zM99.25 438.63h1.25v1.25h-1.25zM104.52 429.93h1.25v1.25h-1.25zM104.84 436.11h1.25v1.25h-1.25zM103.27 436.99h1.25v1.25h-1.25zM85.71 452.73h1.25v1.25h-1.25zM99.47 436.85h1.25v1.25h-1.25zM95.7 437.9h1.25v1.25h-1.25zM84.43 452.34h1.25v1.25h-1.25zM95.4 444.61h1.25v1.25h-1.25zM106.13 435.56h1.25v1.25h-1.25zM103.35 433.21h1.25v1.25h-1.25zM98.09 437.9h1.25v1.25h-1.25zM97.28 432.5h1.25v1.25h-1.25zM85.27 448.07h1.25v1.25h-1.25zM90.23 438.1h1.25v1.25h-1.25zM101.21 431.05h1.25v1.25h-1.25zM84.93 454.3h1.25v1.25h-1.25zM90.88 437.38h1.25v1.25h-1.25zM101.51 430.99h1.25v1.25h-1.25zM95.06 447.04h1.25v1.25h-1.25zM84.8 450.44h1.25v1.25h-1.25zM105.03 428.01h1.25v1.25h-1.25zM110.7 429.33h1.25v1.25h-1.25zM107.89 434.7h1.25v1.25h-1.25zM107.44 435.46h1.25v1.25h-1.25zM105.27 428.92h1.25v1.25h-1.25zM84.51 451.68h1.25v1.25h-1.25zM92.1 449.56h1.25v1.25h-1.25zM84.86 454.7h1.25v1.25h-1.25zM84.78 450.74h1.25v1.25h-1.25zM87.15 442.9h1.25v1.25h-1.25zM92.59 449.9h1.25v1.25h-1.25zM87.24 442.35h1.25v1.25h-1.25zM110.53 432.02h1.25v1.25h-1.25zM112.58 427.06h1.25v1.25h-1.25zM105.59 428.13h1.25v1.25h-1.25zM95.64 434.12h1.25v1.25h-1.25zM96.36 446.12h1.25v1.25h-1.25zM105.82 436.8h1.25v1.25h-1.25zM105.26 428.13h1.25v1.25h-1.25zM98.88 431.06h1.25v1.25h-1.25zM84.69 448.6h1.25v1.25h-1.25zM108.83 433.77h1.25v1.25h-1.25zM87.93 453.37h1.25v1.25h-1.25zM92.7 450.07h1.25v1.25h-1.25zM97.28 432.64h1.25v1.25h-1.25zM93.93 435.4h1.25v1.25h-1.25zM110.08 426.85h1.25v1.25h-1.25zM97.96 444.76h1.25v1.25h-1.25zM101.21 442.54h1.25v1.25h-1.25zM108.78 426.65h1.25v1.25h-1.25zM103.31 439.56h1.25v1.25h-1.25zM97.78 432.83h1.25v1.25h-1.25zM93.03 436.09h1.25v1.25h-1.25zM87.64 443.42h1.25v1.25h-1.25zM107.72 428.18h1.25v1.25h-1.25zM106.98 436.48h1.25v1.25h-1.25z" fill="#66b7d2"/>
<rect x="77.28" y="456.77" width="1.25" height="1.25" fill="#66b7d2" />
<rect x="77.28" y="459.77" width="1.25" height="1.25" fill="#66b7d2" />
<rect x="77.58" y="458.38" width="1.25" height="1.25" fill="#66b7d2" />
<rect x="82.08" y="456.77" width="1.25" height="1.25" fill="#66b7d2" />
<rect x="79.88" y="455.88" width="1.25" height="1.25" fill="#66b7d2" />
<rect x="108.88" y="426.07" width="1.25" height="1.25" fill="#66b7d2" />
<rect x="114.08" y="425.57" width="1.25" height="1.25" fill="#66b7d2" />
<rect x="116.88" y="423.88" width="1.25" height="1.25" fill="#66b7d2" />
<rect x="90.88" y="435.88" width="1.25" height="1.25" fill="#66b7d2" />
<rect x="88.88" y="437.88" width="1.25" height="1.25" fill="#66b7d2" />
<rect x="85.88" y="442.38" width="1.25" height="1.25" fill="#66b7d2" />
<rect x="104.88" y="427.88" width="1.25" height="1.25" fill="#66b7d2" />
<circle cx="113.4" cy="401.7" r="1.25" fill="#9c4434"/>
<circle cx="114.6" cy="402.9" r="1.25" fill="#9c4434"/>
<circle cx="120.3" cy="401.9" r="1.25" fill="#9c4434"/>
<circle cx="111.3" cy="407.1" r="1.25" fill="#9c4434"/>
<circle cx="106.5" cy="410.5" r="1.25" fill="#9c4434"/>
<circle cx="111.1" cy="412.9" r="1.25" fill="#9c4434"/>
<circle cx="107.3" cy="421.6" r="1.25" fill="#9c4434"/>
<circle cx="97" cy="422.6" r="1.25" fill="#9c4434"/>
<circle cx="103.7" cy="426.2" r="1.25" fill="#9c4434"/>
<circle cx="104.9" cy="426" r="1.25" fill="#9c4434"/>
<circle cx="106.7" cy="425.6" r="1.25" fill="#9c4434"/>
<circle cx="96" cy="429.5" r="1.25" fill="#9c4434"/>
<circle cx="99.2" cy="428.9" r="1.25" fill="#9c4434"/>
<circle cx="101.9" cy="428.3" r="1.25" fill="#9c4434"/>
<circle cx="94.9" cy="434" r="1.25" fill="#9c4434"/>
<circle cx="109.1" cy="427.7" r="1.25" fill="#9c4434"/>
<circle cx="112.2" cy="428.3" r="1.25" fill="#9c4434"/>
<text x="90.8" y="398.1" font-size="6.6" fill="#9c4434" style="stroke:#9c4434" textLength="15.4" lengthAdjust="spacingAndGlyphs" >F317L</text>
<text x="86.7" y="404.5" font-size="6.6" fill="#9c4434" style="stroke:#9c4434" textLength="18.6" lengthAdjust="spacingAndGlyphs" >Q252H</text>
<text x="84.7" y="410.6" font-size="6.6" fill="#9c4434" style="stroke:#9c4434" textLength="17.2" lengthAdjust="spacingAndGlyphs" >L248V</text>
<text x="123.7" y="399.4" font-size="6.6" fill="#9c4434" style="stroke:#9c4434" textLength="15.5" lengthAdjust="spacingAndGlyphs" >T315I</text>
<text x="119.7" y="408.6" font-size="6.6" fill="#9c4434" style="stroke:#9c4434" textLength="18.2" lengthAdjust="spacingAndGlyphs" >E255K</text>
<text x="108.9" y="423" font-size="6.6" fill="#9c4434" style="stroke:#9c4434" textLength="15.5" lengthAdjust="spacingAndGlyphs" >L298P</text>
<line x1="106.6" y1="396.6" x2="112.6" y2="401.2" stroke="#9c4434" stroke-width="0.5" />
<line x1="107.8" y1="403" x2="110.6" y2="406.4" stroke="#9c4434" stroke-width="0.5" />
<line x1="105" y1="409" x2="105.9" y2="410" stroke="#9c4434" stroke-width="0.5" />
<line x1="123.4" y1="397.4" x2="121.1" y2="401.2" stroke="#9c4434" stroke-width="0.5" />
<line x1="119.4" y1="406" x2="115.6" y2="403.6" stroke="#9c4434" stroke-width="0.5" />
<line x1="108.6" y1="421.4" x2="108" y2="421.5" stroke="#9c4434" stroke-width="0.5" />
<line x1="65.4" y1="401.9" x2="68.5" y2="401.9" stroke="#2a2a2a" stroke-width="1" />
<text x="62.3" y="404.4" font-size="7.1" text-anchor="end" textLength="11.08" lengthAdjust="spacingAndGlyphs" >100</text>
<line x1="65.4" y1="419.8" x2="68.5" y2="419.8" stroke="#2a2a2a" stroke-width="1" />
<text x="62.3" y="422.3" font-size="7.1" text-anchor="end" textLength="3.69" lengthAdjust="spacingAndGlyphs" >1</text>
<line x1="65.4" y1="437.7" x2="68.5" y2="437.7" stroke="#2a2a2a" stroke-width="1" />
<text x="62.3" y="440.2" font-size="7.1" text-anchor="end" textLength="12.92" lengthAdjust="spacingAndGlyphs" >0.01</text>
<line x1="65.4" y1="455.8" x2="68.5" y2="455.8" stroke="#2a2a2a" stroke-width="1" />
<text x="62.3" y="458.3" font-size="7.1" text-anchor="end" textLength="20.3" lengthAdjust="spacingAndGlyphs" >0.0001</text>
<line x1="68.5" y1="398.8" x2="68.5" y2="472.9" stroke="#2a2a2a" stroke-width="1.6" />
<line x1="68" y1="472.3" x2="142.7" y2="472.3" stroke="#2a2a2a" stroke-width="1.4" />
<line x1="84.7" y1="472.3" x2="84.7" y2="475.3" stroke="#2a2a2a" stroke-width="1" />
<text transform="translate(87.9 482.4) rotate(-45)" font-size="7.6" text-anchor="end" textLength="20.63" lengthAdjust="spacingAndGlyphs">0.0001</text>
<line x1="102.7" y1="472.3" x2="102.7" y2="475.3" stroke="#2a2a2a" stroke-width="1" />
<text transform="translate(105.9 482.4) rotate(-45)" font-size="7.6" text-anchor="end" textLength="13.13" lengthAdjust="spacingAndGlyphs">0.01</text>
<line x1="120.6" y1="472.3" x2="120.6" y2="475.3" stroke="#2a2a2a" stroke-width="1" />
<text transform="translate(123.8 482.4) rotate(-45)" font-size="7.6" text-anchor="end" textLength="3.75" lengthAdjust="spacingAndGlyphs">1</text>
<line x1="138.5" y1="472.3" x2="138.5" y2="475.3" stroke="#2a2a2a" stroke-width="1" />
<text transform="translate(141.7 482.4) rotate(-45)" font-size="7.6" text-anchor="end" textLength="11.25" lengthAdjust="spacingAndGlyphs">100</text>
<polygon points="178.9,461.5 187.2,444 194.5,426 199.5,419.2 206.9,411.7 214.3,406.5 221.7,402.2 222.2,410.7 219.3,421.5 216.7,427.5 212.3,431.8 206.3,440.5 199.4,447.4 189,454.3 181,460" fill="#ebebeb" />
<line x1="170.5" y1="471.5" x2="244" y2="398.5" stroke="#c8c8c8" stroke-width="0.6" stroke-dasharray="1.2 1.2"/>
<path d="M196.59 442.37h1.25v1.25h-1.25zM196.18 444.84h1.25v1.25h-1.25zM201.04 440.03h1.25v1.25h-1.25zM199.04 439.05h1.25v1.25h-1.25zM198.32 439.88h1.25v1.25h-1.25zM186.82 449.17h1.25v1.25h-1.25zM197.62 442.52h1.25v1.25h-1.25zM212.02 430.02h1.25v1.25h-1.25zM194.97 440.64h1.25v1.25h-1.25zM184.57 454.05h1.25v1.25h-1.25zM200.57 437.85h1.25v1.25h-1.25zM201.39 436.53h1.25v1.25h-1.25zM199.09 439.81h1.25v1.25h-1.25zM202.88 436.3h1.25v1.25h-1.25zM209.78 431.58h1.25v1.25h-1.25zM201.27 437.53h1.25v1.25h-1.25zM202.28 435.1h1.25v1.25h-1.25zM193.05 448.56h1.25v1.25h-1.25zM193.62 446.13h1.25v1.25h-1.25zM211.72 427.92h1.25v1.25h-1.25zM203.28 431.01h1.25v1.25h-1.25zM210.95 430.03h1.25v1.25h-1.25zM197.52 444.65h1.25v1.25h-1.25zM206.12 430.29h1.25v1.25h-1.25zM185.7 449.7h1.25v1.25h-1.25zM202.83 434.96h1.25v1.25h-1.25zM211.04 430.2h1.25v1.25h-1.25zM196.42 444.14h1.25v1.25h-1.25zM191.46 441.43h1.25v1.25h-1.25zM205.9 429.13h1.25v1.25h-1.25zM210.64 429.36h1.25v1.25h-1.25zM213.85 428.53h1.25v1.25h-1.25zM203.32 441.29h1.25v1.25h-1.25zM213.69 426.8h1.25v1.25h-1.25zM194.94 438.69h1.25v1.25h-1.25zM192.22 447.03h1.25v1.25h-1.25zM190.04 448.33h1.25v1.25h-1.25zM203.26 439.02h1.25v1.25h-1.25zM195.56 436.55h1.25v1.25h-1.25zM205.4 430.55h1.25v1.25h-1.25zM189.75 452.71h1.25v1.25h-1.25zM212.24 429.21h1.25v1.25h-1.25zM200.1 441.15h1.25v1.25h-1.25zM200.44 436.33h1.25v1.25h-1.25zM191.98 450.71h1.25v1.25h-1.25zM184.85 452.76h1.25v1.25h-1.25zM191.64 447.25h1.25v1.25h-1.25zM200.8 434.2h1.25v1.25h-1.25zM212.6 428.28h1.25v1.25h-1.25zM202.71 432.54h1.25v1.25h-1.25zM192.17 442.95h1.25v1.25h-1.25zM215.53 427.05h1.25v1.25h-1.25zM192.14 446.79h1.25v1.25h-1.25zM205.89 430.19h1.25v1.25h-1.25zM199.58 440.05h1.25v1.25h-1.25zM190.68 443.69h1.25v1.25h-1.25zM187.3 446.32h1.25v1.25h-1.25zM208.01 429.72h1.25v1.25h-1.25zM203.09 438.28h1.25v1.25h-1.25zM192.36 449.77h1.25v1.25h-1.25zM195.14 442.83h1.25v1.25h-1.25zM203.55 438.91h1.25v1.25h-1.25zM204.01 434.2h1.25v1.25h-1.25zM206.6 438.47h1.25v1.25h-1.25zM188.2 445.34h1.25v1.25h-1.25zM185.69 449.33h1.25v1.25h-1.25zM191.48 451.24h1.25v1.25h-1.25zM196.88 440.12h1.25v1.25h-1.25zM210.71 430.5h1.25v1.25h-1.25zM195.84 444.72h1.25v1.25h-1.25zM204.41 436.59h1.25v1.25h-1.25zM186.18 449.67h1.25v1.25h-1.25zM196.81 447.18h1.25v1.25h-1.25zM204.71 433.88h1.25v1.25h-1.25zM208.54 434.17h1.25v1.25h-1.25zM201.63 437.87h1.25v1.25h-1.25zM212.19 430.5h1.25v1.25h-1.25zM207.78 430.74h1.25v1.25h-1.25zM194.55 438.37h1.25v1.25h-1.25zM196.86 436.86h1.25v1.25h-1.25zM190.84 451.78h1.25v1.25h-1.25zM208.23 433.72h1.25v1.25h-1.25zM201.16 434.09h1.25v1.25h-1.25zM204.35 433.28h1.25v1.25h-1.25zM195.21 437.06h1.25v1.25h-1.25zM190.26 450.72h1.25v1.25h-1.25zM201.23 440.73h1.25v1.25h-1.25zM197.17 442.23h1.25v1.25h-1.25zM193.05 449.95h1.25v1.25h-1.25zM189.17 445.01h1.25v1.25h-1.25zM188.54 445.94h1.25v1.25h-1.25zM185.63 449.46h1.25v1.25h-1.25zM204.33 435.57h1.25v1.25h-1.25zM194.87 442.08h1.25v1.25h-1.25zM191.28 448.49h1.25v1.25h-1.25zM191 449.8h1.25v1.25h-1.25zM202.92 437.28h1.25v1.25h-1.25zM200.61 442.65h1.25v1.25h-1.25zM191.55 450.6h1.25v1.25h-1.25zM198.77 445.33h1.25v1.25h-1.25zM190.53 446.85h1.25v1.25h-1.25zM200.74 438.38h1.25v1.25h-1.25zM190.64 445.93h1.25v1.25h-1.25zM189.56 443.89h1.25v1.25h-1.25zM189.25 448.03h1.25v1.25h-1.25zM202.24 440.35h1.25v1.25h-1.25zM185.05 451.78h1.25v1.25h-1.25zM207.59 436.82h1.25v1.25h-1.25zM191.16 442.56h1.25v1.25h-1.25zM199.73 444.1h1.25v1.25h-1.25zM198.84 442.56h1.25v1.25h-1.25zM199.29 437.28h1.25v1.25h-1.25zM191.98 444.39h1.25v1.25h-1.25zM188.87 451.78h1.25v1.25h-1.25zM191.34 445.02h1.25v1.25h-1.25zM208.38 428.83h1.25v1.25h-1.25zM190.3 448.88h1.25v1.25h-1.25zM187.73 448.3h1.25v1.25h-1.25zM200.3 443.54h1.25v1.25h-1.25zM201.67 434.17h1.25v1.25h-1.25zM204.98 431.78h1.25v1.25h-1.25zM211.27 428.77h1.25v1.25h-1.25zM208.54 430.09h1.25v1.25h-1.25zM200.86 438.86h1.25v1.25h-1.25zM197.29 443.29h1.25v1.25h-1.25zM198.38 446.01h1.25v1.25h-1.25zM208.24 433.69h1.25v1.25h-1.25zM194.8 447.83h1.25v1.25h-1.25zM187.7 449.4h1.25v1.25h-1.25zM194.32 443.74h1.25v1.25h-1.25zM196.01 441.19h1.25v1.25h-1.25zM193.04 447.8h1.25v1.25h-1.25zM193.99 437.53h1.25v1.25h-1.25zM206.23 438.56h1.25v1.25h-1.25zM210.65 432.32h1.25v1.25h-1.25zM205.64 433.79h1.25v1.25h-1.25zM205.34 431.02h1.25v1.25h-1.25zM188.5 453.32h1.25v1.25h-1.25zM195.9 446.47h1.25v1.25h-1.25zM188.76 448.33h1.25v1.25h-1.25zM192.25 448.56h1.25v1.25h-1.25zM208.62 432.26h1.25v1.25h-1.25zM196.55 436.29h1.25v1.25h-1.25zM204.71 439.32h1.25v1.25h-1.25zM211.94 427.32h1.25v1.25h-1.25zM198.96 446.15h1.25v1.25h-1.25zM195.82 439.25h1.25v1.25h-1.25zM211.57 429.01h1.25v1.25h-1.25zM198.74 434.93h1.25v1.25h-1.25zM190.88 444.77h1.25v1.25h-1.25zM191.8 440.1h1.25v1.25h-1.25zM188.97 448.78h1.25v1.25h-1.25zM191.57 442.92h1.25v1.25h-1.25zM212.96 428.21h1.25v1.25h-1.25zM190.45 447.22h1.25v1.25h-1.25zM197.12 445.23h1.25v1.25h-1.25zM184.77 452.9h1.25v1.25h-1.25zM204.07 432.04h1.25v1.25h-1.25zM210.81 431.63h1.25v1.25h-1.25zM194.58 437.47h1.25v1.25h-1.25zM195.25 444.93h1.25v1.25h-1.25zM189.51 449.47h1.25v1.25h-1.25zM192.55 438.82h1.25v1.25h-1.25zM188.2 453.24h1.25v1.25h-1.25zM200.93 442.45h1.25v1.25h-1.25zM212.48 427.5h1.25v1.25h-1.25zM202.94 438.77h1.25v1.25h-1.25zM186.01 451.95h1.25v1.25h-1.25zM197.69 440.96h1.25v1.25h-1.25zM186.78 451.45h1.25v1.25h-1.25zM202.45 431.05h1.25v1.25h-1.25zM206.31 433.16h1.25v1.25h-1.25zM204.16 439.32h1.25v1.25h-1.25zM204.9 431.01h1.25v1.25h-1.25zM207.68 436.13h1.25v1.25h-1.25zM197.25 437.87h1.25v1.25h-1.25zM195.65 445.95h1.25v1.25h-1.25zM205.8 430.46h1.25v1.25h-1.25zM190.6 447.71h1.25v1.25h-1.25zM203.04 431.53h1.25v1.25h-1.25zM207.38 433.64h1.25v1.25h-1.25zM189.87 445.71h1.25v1.25h-1.25zM192.78 446.14h1.25v1.25h-1.25zM215.67 426.43h1.25v1.25h-1.25zM188 452.51h1.25v1.25h-1.25zM195.01 440.76h1.25v1.25h-1.25zM194.52 437.77h1.25v1.25h-1.25zM199.55 433.24h1.25v1.25h-1.25zM192.71 448.44h1.25v1.25h-1.25zM207.48 435.61h1.25v1.25h-1.25zM206.33 436.85h1.25v1.25h-1.25zM207.1 432.41h1.25v1.25h-1.25zM190.44 446.05h1.25v1.25h-1.25zM204.47 432.74h1.25v1.25h-1.25zM205.38 433.31h1.25v1.25h-1.25zM194.37 446.43h1.25v1.25h-1.25zM200.9 436.22h1.25v1.25h-1.25zM208.96 428.9h1.25v1.25h-1.25zM199.7 433.07h1.25v1.25h-1.25zM205.57 432.2h1.25v1.25h-1.25zM194.46 439.47h1.25v1.25h-1.25zM196.16 438.61h1.25v1.25h-1.25zM198.82 444.02h1.25v1.25h-1.25zM204.01 434.42h1.25v1.25h-1.25zM187.36 453.34h1.25v1.25h-1.25zM208.72 429.72h1.25v1.25h-1.25zM210.78 430.69h1.25v1.25h-1.25zM189.88 447.68h1.25v1.25h-1.25zM197.87 435.51h1.25v1.25h-1.25zM192.6 446.98h1.25v1.25h-1.25zM203.52 434.1h1.25v1.25h-1.25zM199.12 446.28h1.25v1.25h-1.25zM207.64 429.57h1.25v1.25h-1.25zM187.77 449.06h1.25v1.25h-1.25zM192.46 439.25h1.25v1.25h-1.25zM189.85 447.1h1.25v1.25h-1.25zM196.25 435.93h1.25v1.25h-1.25zM197.39 444h1.25v1.25h-1.25zM210.15 433.09h1.25v1.25h-1.25zM205.17 436.72h1.25v1.25h-1.25zM210.99 429.68h1.25v1.25h-1.25zM201.47 435.46h1.25v1.25h-1.25zM212.23 429.84h1.25v1.25h-1.25zM185.9 450.67h1.25v1.25h-1.25zM201.74 438.86h1.25v1.25h-1.25zM195.13 448.19h1.25v1.25h-1.25zM209.63 432.35h1.25v1.25h-1.25zM207.87 431.53h1.25v1.25h-1.25zM199.02 437.33h1.25v1.25h-1.25zM194.2 443.9h1.25v1.25h-1.25zM200.81 439.67h1.25v1.25h-1.25zM205.47 431.8h1.25v1.25h-1.25zM195.86 436.23h1.25v1.25h-1.25zM188.33 451.93h1.25v1.25h-1.25zM198.08 446.32h1.25v1.25h-1.25zM191.42 447.1h1.25v1.25h-1.25zM209.79 432.12h1.25v1.25h-1.25zM198.12 436.72h1.25v1.25h-1.25zM194.81 446.74h1.25v1.25h-1.25zM190.3 441.46h1.25v1.25h-1.25zM200.23 444.93h1.25v1.25h-1.25zM188.92 453.14h1.25v1.25h-1.25zM209.58 431.1h1.25v1.25h-1.25zM197.81 443.04h1.25v1.25h-1.25zM197.7 440.5h1.25v1.25h-1.25zM190.78 442.56h1.25v1.25h-1.25zM193.01 449.77h1.25v1.25h-1.25zM213.7 427.37h1.25v1.25h-1.25zM195.03 447.72h1.25v1.25h-1.25zM203.97 434.52h1.25v1.25h-1.25zM194.39 440.25h1.25v1.25h-1.25zM197.16 435.97h1.25v1.25h-1.25zM197.85 435.91h1.25v1.25h-1.25zM206.27 437.04h1.25v1.25h-1.25zM189.2 450.51h1.25v1.25h-1.25zM195.61 443.83h1.25v1.25h-1.25zM198.09 434.37h1.25v1.25h-1.25zM201.79 437.35h1.25v1.25h-1.25zM199.58 440h1.25v1.25h-1.25zM195.46 441.04h1.25v1.25h-1.25zM199.49 435.35h1.25v1.25h-1.25zM196.65 443.24h1.25v1.25h-1.25zM209.29 433.3h1.25v1.25h-1.25zM196.12 436.92h1.25v1.25h-1.25zM201.46 433.74h1.25v1.25h-1.25zM194.91 449.29h1.25v1.25h-1.25zM189.45 445.54h1.25v1.25h-1.25zM186.26 448.83h1.25v1.25h-1.25zM187.22 452.24h1.25v1.25h-1.25zM190.11 443.24h1.25v1.25h-1.25zM198.15 437.02h1.25v1.25h-1.25zM206.75 430.87h1.25v1.25h-1.25zM195.5 446.88h1.25v1.25h-1.25zM202.62 438.75h1.25v1.25h-1.25zM195.06 437.16h1.25v1.25h-1.25zM196.53 445.56h1.25v1.25h-1.25zM197.5 444.95h1.25v1.25h-1.25zM203.88 434.89h1.25v1.25h-1.25zM194.46 447.47h1.25v1.25h-1.25zM192.69 443.29h1.25v1.25h-1.25zM189.4 450.32h1.25v1.25h-1.25zM199.87 433.72h1.25v1.25h-1.25zM213.63 428.24h1.25v1.25h-1.25zM189.1 447.56h1.25v1.25h-1.25zM202.97 438.05h1.25v1.25h-1.25zM213.96 428.36h1.25v1.25h-1.25zM209.01 428.81h1.25v1.25h-1.25zM207.4 433.19h1.25v1.25h-1.25zM207.26 431.99h1.25v1.25h-1.25zM205.12 433.8h1.25v1.25h-1.25zM197.9 442.17h1.25v1.25h-1.25zM208.12 430h1.25v1.25h-1.25zM207.85 429.61h1.25v1.25h-1.25zM204.56 436.61h1.25v1.25h-1.25zM192.27 449.1h1.25v1.25h-1.25zM187.13 450.14h1.25v1.25h-1.25zM199.1 439.24h1.25v1.25h-1.25zM210.2 429.3h1.25v1.25h-1.25zM209.29 433.01h1.25v1.25h-1.25zM204.37 441.06h1.25v1.25h-1.25zM187.49 451.92h1.25v1.25h-1.25zM207.98 432.49h1.25v1.25h-1.25zM189.46 445.37h1.25v1.25h-1.25zM201.94 437.42h1.25v1.25h-1.25zM199.28 439.93h1.25v1.25h-1.25zM203.06 430.5h1.25v1.25h-1.25zM201.73 434.82h1.25v1.25h-1.25zM195.8 443.11h1.25v1.25h-1.25zM201.91 431.74h1.25v1.25h-1.25zM190.06 449.6h1.25v1.25h-1.25zM187.6 452.44h1.25v1.25h-1.25zM200.72 435.09h1.25v1.25h-1.25zM187.88 447.14h1.25v1.25h-1.25zM195.92 444.74h1.25v1.25h-1.25zM205.09 430.47h1.25v1.25h-1.25zM202.58 441.85h1.25v1.25h-1.25zM197.46 441.37h1.25v1.25h-1.25zM208.37 432.77h1.25v1.25h-1.25zM210.49 432.76h1.25v1.25h-1.25zM196.66 435.44h1.25v1.25h-1.25zM208.63 432.21h1.25v1.25h-1.25zM198.72 440.21h1.25v1.25h-1.25zM197.8 434.67h1.25v1.25h-1.25zM189.34 443.69h1.25v1.25h-1.25zM205.6 438.22h1.25v1.25h-1.25zM205.64 432.22h1.25v1.25h-1.25zM197.08 445.5h1.25v1.25h-1.25zM209.76 429.09h1.25v1.25h-1.25zM195.41 445.7h1.25v1.25h-1.25zM196 446.17h1.25v1.25h-1.25zM185.97 447.29h1.25v1.25h-1.25zM207.79 427.93h1.25v1.25h-1.25zM189.63 440.72h1.25v1.25h-1.25zM192.91 437.02h1.25v1.25h-1.25zM199.62 447.45h1.25v1.25h-1.25zM209.74 436.15h1.25v1.25h-1.25zM203.23 442.49h1.25v1.25h-1.25zM186.82 455.54h1.25v1.25h-1.25zM210.68 427.59h1.25v1.25h-1.25zM195.26 434.91h1.25v1.25h-1.25zM204.23 442.13h1.25v1.25h-1.25zM186.77 445.09h1.25v1.25h-1.25zM194.24 451.06h1.25v1.25h-1.25zM206.36 440.03h1.25v1.25h-1.25zM205.27 428.59h1.25v1.25h-1.25zM204.17 429.72h1.25v1.25h-1.25zM205.56 427.65h1.25v1.25h-1.25zM183.32 452.5h1.25v1.25h-1.25zM212.87 430.71h1.25v1.25h-1.25zM204.56 428.1h1.25v1.25h-1.25zM210.55 433.18h1.25v1.25h-1.25zM202.05 443.69h1.25v1.25h-1.25zM207.18 438.98h1.25v1.25h-1.25zM211.79 432.13h1.25v1.25h-1.25zM195.1 450.03h1.25v1.25h-1.25zM204.62 428.25h1.25v1.25h-1.25zM189.16 442.58h1.25v1.25h-1.25zM183.36 453.75h1.25v1.25h-1.25zM201.55 431.17h1.25v1.25h-1.25zM210.03 433.99h1.25v1.25h-1.25zM213.15 425.88h1.25v1.25h-1.25zM199.85 432.21h1.25v1.25h-1.25zM195.74 449.27h1.25v1.25h-1.25zM208 427.89h1.25v1.25h-1.25zM196.47 434.18h1.25v1.25h-1.25zM185.31 454.32h1.25v1.25h-1.25zM198.03 448.64h1.25v1.25h-1.25zM212.95 426.81h1.25v1.25h-1.25zM210.37 433.97h1.25v1.25h-1.25zM213.28 430.71h1.25v1.25h-1.25zM198.15 448.46h1.25v1.25h-1.25zM212.08 425.76h1.25v1.25h-1.25zM208.68 427.37h1.25v1.25h-1.25zM198.03 433.2h1.25v1.25h-1.25zM200.08 431.53h1.25v1.25h-1.25z" fill="#66b7d2"/>
<rect x="178.88" y="458.88" width="1.25" height="1.25" fill="#66b7d2" />
<rect x="180.57" y="458.48" width="1.25" height="1.25" fill="#66b7d2" />
<rect x="181.88" y="457.18" width="1.25" height="1.25" fill="#66b7d2" />
<rect x="184.07" y="456.27" width="1.25" height="1.25" fill="#66b7d2" />
<rect x="182.38" y="457.88" width="1.25" height="1.25" fill="#66b7d2" />
<rect x="190.97" y="439.48" width="1.25" height="1.25" fill="#66b7d2" />
<rect x="193.57" y="436.88" width="1.25" height="1.25" fill="#66b7d2" />
<rect x="186.57" y="445.88" width="1.25" height="1.25" fill="#66b7d2" />
<rect x="188.38" y="445.07" width="1.25" height="1.25" fill="#66b7d2" />
<rect x="208.28" y="425.57" width="1.25" height="1.25" fill="#66b7d2" />
<rect x="216.88" y="426.48" width="1.25" height="1.25" fill="#66b7d2" />
<rect x="214.38" y="417.48" width="1.25" height="1.25" fill="#66b7d2" />
<rect x="217.18" y="426.38" width="1.25" height="1.25" fill="#66b7d2" />
<rect x="208.18" y="425.68" width="1.25" height="1.25" fill="#66b7d2" />
<circle cx="171.2" cy="458.8" r="1.1" fill="#66b7d2"/>
<circle cx="213.3" cy="407.8" r="1.15" fill="#9c4434"/>
<circle cx="217.8" cy="408.9" r="1.15" fill="#9c4434"/>
<circle cx="200.7" cy="416.5" r="1.15" fill="#9c4434"/>
<circle cx="206.7" cy="414.2" r="1.15" fill="#9c4434"/>
<circle cx="207.4" cy="414.7" r="1.15" fill="#9c4434"/>
<circle cx="205.3" cy="415.9" r="1.15" fill="#9c4434"/>
<circle cx="212.6" cy="418.7" r="1.15" fill="#9c4434"/>
<circle cx="194.6" cy="423.9" r="1.15" fill="#9c4434"/>
<circle cx="206" cy="418" r="1.15" fill="#9c4434"/>
<circle cx="203.2" cy="420.8" r="1.15" fill="#9c4434"/>
<circle cx="204.6" cy="422.2" r="1.15" fill="#9c4434"/>
<circle cx="207.4" cy="421.5" r="1.15" fill="#9c4434"/>
<circle cx="200.5" cy="422.9" r="1.15" fill="#9c4434"/>
<circle cx="201.9" cy="424.2" r="1.15" fill="#9c4434"/>
<circle cx="199.8" cy="425.6" r="1.15" fill="#9c4434"/>
<circle cx="203.9" cy="425.6" r="1.15" fill="#9c4434"/>
<circle cx="201.2" cy="427.4" r="1.15" fill="#9c4434"/>
<circle cx="199.1" cy="428" r="1.15" fill="#9c4434"/>
<circle cx="202.9" cy="428.4" r="1.15" fill="#9c4434"/>
<circle cx="198.4" cy="431.9" r="1.15" fill="#9c4434"/>
<circle cx="194.6" cy="433.9" r="1.15" fill="#9c4434"/>
<circle cx="206.7" cy="418.7" r="1.15" fill="#9c4434"/>
<circle cx="204.6" cy="418.7" r="1.15" fill="#9c4434"/>
<circle cx="200.5" cy="420.8" r="1.15" fill="#9c4434"/>
<circle cx="202.5" cy="419.4" r="1.15" fill="#9c4434"/>
<circle cx="200.1" cy="429.1" r="1.15" fill="#9c4434"/>
<circle cx="206" cy="424.2" r="1.15" fill="#9c4434"/>
<circle cx="203" cy="416.5" r="1.15" fill="#9c4434"/>
<circle cx="205" cy="420.5" r="1.15" fill="#9c4434"/>
<circle cx="202" cy="422.5" r="1.15" fill="#9c4434"/>
<circle cx="204" cy="427.8" r="1.15" fill="#9c4434"/>
<polygon points="221.9,401.36 223.6,404.42 220.2,404.42" fill="#9c4434" />
<polygon points="210.5,414.79 211.9,417.31 209.1,417.31" fill="#9c4434" />
<polygon points="208.4,421.39 209.8,423.91 207,423.91" fill="#9c4434" />
<polygon points="205.3,425.89 206.7,428.41 203.9,428.41" fill="#9c4434" />
<polygon points="203.5,413.29 204.9,415.81 202.1,415.81" fill="#9c4434" />
<text x="190.8" y="405.8" font-size="6.6" fill="#9c4434" style="stroke:#9c4434" textLength="15.5" lengthAdjust="spacingAndGlyphs" >F317L</text>
<text x="181.1" y="415" font-size="6.6" fill="#9c4434" style="stroke:#9c4434" textLength="16.6" lengthAdjust="spacingAndGlyphs" >K291E</text>
<text x="218" y="418" font-size="6.6" fill="#9c4434" style="stroke:#9c4434" textLength="16.6" lengthAdjust="spacingAndGlyphs" >L298P</text>
<text x="225.4" y="401.2" font-size="6.6" fill="#9c4434" style="stroke:#9c4434" textLength="17.3" lengthAdjust="spacingAndGlyphs" >-T315I</text>
<line x1="207.5" y1="403.8" x2="212.6" y2="406.7" stroke="#9c4434" stroke-width="0.5" />
<line x1="198.6" y1="413.4" x2="200.2" y2="415.6" stroke="#9c4434" stroke-width="0.5" />
<line x1="217.8" y1="416" x2="217.6" y2="410" stroke="#9c4434" stroke-width="0.5" />
<text x="220.3" y="432.8" font-size="6.8" style="stroke-width:0.05px" textLength="16.8" lengthAdjust="spacingAndGlyphs" >Color</text>
<text x="227.7" y="438.8" font-size="6.8" fill="#9c4434" style="stroke:#9c4434;stroke-width:0.05px" textLength="22.5" lengthAdjust="spacingAndGlyphs" >p &lt; 0.05</text>
<text x="227.7" y="445" font-size="6.8" fill="#66b7d2" style="stroke:#66b7d2;stroke-width:0.05px" textLength="6.2" lengthAdjust="spacingAndGlyphs" >ns</text>
<text x="220.3" y="452.6" font-size="6.8" style="stroke-width:0.05px" textLength="18.5" lengthAdjust="spacingAndGlyphs" >Shape</text>
<polygon points="222.5,457.35 224.4,460.77 220.6,460.77" fill="#000" />
<text x="227.7" y="460.9" font-size="7" style="stroke-width:0.05px" textLength="17" lengthAdjust="spacingAndGlyphs" >Cured</text>
<circle cx="222.5" cy="466.4" r="1.65" fill="#000"/>
<text x="227.7" y="468" font-size="7" style="stroke-width:0.05px" textLength="25" lengthAdjust="spacingAndGlyphs" >Relapsed</text>
<line x1="167.4" y1="402.3" x2="170.5" y2="402.3" stroke="#2a2a2a" stroke-width="1" />
<text x="164.3" y="404.8" font-size="7.1" text-anchor="end" textLength="11.08" lengthAdjust="spacingAndGlyphs" >100</text>
<line x1="167.4" y1="419.6" x2="170.5" y2="419.6" stroke="#2a2a2a" stroke-width="1" />
<text x="164.3" y="422.1" font-size="7.1" text-anchor="end" textLength="3.69" lengthAdjust="spacingAndGlyphs" >1</text>
<line x1="167.4" y1="438.1" x2="170.5" y2="438.1" stroke="#2a2a2a" stroke-width="1" />
<text x="164.3" y="440.6" font-size="7.1" text-anchor="end" textLength="12.92" lengthAdjust="spacingAndGlyphs" >0.01</text>
<line x1="167.4" y1="456.1" x2="170.5" y2="456.1" stroke="#2a2a2a" stroke-width="1" />
<text x="164.3" y="458.6" font-size="7.1" text-anchor="end" textLength="20.3" lengthAdjust="spacingAndGlyphs" >0.0001</text>
<line x1="170.5" y1="398.6" x2="170.5" y2="472.1" stroke="#2a2a2a" stroke-width="1.6" />
<line x1="170" y1="471.5" x2="244.2" y2="471.5" stroke="#2a2a2a" stroke-width="1.4" />
<line x1="186.2" y1="471.5" x2="186.2" y2="474.5" stroke="#2a2a2a" stroke-width="1" />
<text transform="translate(189.4 481.6) rotate(-45)" font-size="7.6" text-anchor="end" textLength="20.63" lengthAdjust="spacingAndGlyphs">0.0001</text>
<line x1="203.5" y1="471.5" x2="203.5" y2="474.5" stroke="#2a2a2a" stroke-width="1" />
<text transform="translate(206.7 481.6) rotate(-45)" font-size="7.6" text-anchor="end" textLength="13.13" lengthAdjust="spacingAndGlyphs">0.01</text>
<line x1="220.8" y1="471.5" x2="220.8" y2="474.5" stroke="#2a2a2a" stroke-width="1" />
<text transform="translate(224 481.6) rotate(-45)" font-size="7.6" text-anchor="end" textLength="3.75" lengthAdjust="spacingAndGlyphs">1</text>
<line x1="238.1" y1="471.5" x2="238.1" y2="474.5" stroke="#2a2a2a" stroke-width="1" />
<text transform="translate(241.3 481.6) rotate(-45)" font-size="7.6" text-anchor="end" textLength="11.25" lengthAdjust="spacingAndGlyphs">100</text>
<text x="277.1" y="377.4" font-size="10.3" font-weight="bold" fill="#000" style="stroke:#000;stroke-width:0.4px" textLength="5.41" lengthAdjust="spacingAndGlyphs">F</text>
<text x="358" y="387.5" font-size="9.2" style="stroke-width:0" textLength="30" lengthAdjust="spacingAndGlyphs"><tspan font-style="italic">Tcra</tspan>-KO</text>
<text x="475" y="387.8" font-size="9.2" text-anchor="middle" style="stroke-width:0px" >B6</text>
<text transform="translate(283.5 435.3) rotate(-90)" font-size="8.8" text-anchor="middle" textLength="70.5" lengthAdjust="spacingAndGlyphs">Mutant allele frequency</text>
<text transform="translate(293.4 435.3) rotate(-90)" font-size="8.8" text-anchor="middle" textLength="59.8" lengthAdjust="spacingAndGlyphs">in leukemic cells (%)</text>
<text transform="translate(304.1 435.3) rotate(-90)" font-size="8.8" text-anchor="middle" textLength="25.5" lengthAdjust="spacingAndGlyphs">baseline</text>
<text x="343.9" y="508.6" font-size="9" textLength="158.9" lengthAdjust="spacingAndGlyphs" >Mutant allele frequency in leukemic cells (%) injection</text>
<line x1="338.8" y1="470.4" x2="407.3" y2="401.9" stroke="#c8c8c8" stroke-width="0.6" stroke-dasharray="1.2 1.2"/>
<path d="M357.88 448.08h1.25v1.25h-1.25zM351.66 449.48h1.25v1.25h-1.25zM365.06 445.21h1.25v1.25h-1.25zM371.63 436.34h1.25v1.25h-1.25zM368.81 439.56h1.25v1.25h-1.25zM378.24 431.73h1.25v1.25h-1.25zM354.29 445.31h1.25v1.25h-1.25zM356.7 449.04h1.25v1.25h-1.25zM369.25 439.24h1.25v1.25h-1.25zM353.24 449.05h1.25v1.25h-1.25zM355.57 445.06h1.25v1.25h-1.25zM364.47 438.04h1.25v1.25h-1.25zM375.46 433.93h1.25v1.25h-1.25zM377.19 431.95h1.25v1.25h-1.25zM371.47 439.28h1.25v1.25h-1.25zM360.18 442.17h1.25v1.25h-1.25zM367.86 435.58h1.25v1.25h-1.25zM366.09 436.4h1.25v1.25h-1.25zM360.49 440.35h1.25v1.25h-1.25zM364.97 440.61h1.25v1.25h-1.25zM370.69 438.5h1.25v1.25h-1.25zM371.07 440.08h1.25v1.25h-1.25zM356.8 444.96h1.25v1.25h-1.25zM367.38 442.13h1.25v1.25h-1.25zM360.27 441.6h1.25v1.25h-1.25zM366.94 435.87h1.25v1.25h-1.25zM360.99 447.77h1.25v1.25h-1.25zM354.59 448.84h1.25v1.25h-1.25zM362.78 440.49h1.25v1.25h-1.25zM381.35 426.71h1.25v1.25h-1.25zM353.14 447.72h1.25v1.25h-1.25zM377.24 431.4h1.25v1.25h-1.25zM359.85 444.35h1.25v1.25h-1.25zM353.61 449.37h1.25v1.25h-1.25zM353.14 447.06h1.25v1.25h-1.25zM375.7 433.61h1.25v1.25h-1.25zM379.67 429.49h1.25v1.25h-1.25zM357.35 447.35h1.25v1.25h-1.25zM374.75 430.98h1.25v1.25h-1.25zM364.61 441.03h1.25v1.25h-1.25zM371.98 433.64h1.25v1.25h-1.25zM364.49 438.22h1.25v1.25h-1.25zM356.35 446.32h1.25v1.25h-1.25zM355.75 447.68h1.25v1.25h-1.25zM369.29 437.62h1.25v1.25h-1.25zM354.89 451.64h1.25v1.25h-1.25zM369.56 440.34h1.25v1.25h-1.25zM360.98 447.18h1.25v1.25h-1.25zM367.69 440.06h1.25v1.25h-1.25zM373.92 434.78h1.25v1.25h-1.25zM371.77 436.07h1.25v1.25h-1.25zM367.51 443.08h1.25v1.25h-1.25zM356.95 448.9h1.25v1.25h-1.25zM374.03 433.47h1.25v1.25h-1.25zM357.01 444.95h1.25v1.25h-1.25zM359.33 445.48h1.25v1.25h-1.25zM361.12 446.55h1.25v1.25h-1.25zM383.4 425.16h1.25v1.25h-1.25zM367.96 435.94h1.25v1.25h-1.25zM375.82 433.85h1.25v1.25h-1.25zM356.16 447.22h1.25v1.25h-1.25zM375.87 431.09h1.25v1.25h-1.25zM357.94 443.85h1.25v1.25h-1.25zM364.39 445.76h1.25v1.25h-1.25zM367.6 441.91h1.25v1.25h-1.25zM354.93 445.73h1.25v1.25h-1.25zM369.12 437.59h1.25v1.25h-1.25zM353.57 450.11h1.25v1.25h-1.25zM366.32 443.84h1.25v1.25h-1.25zM355.44 445.14h1.25v1.25h-1.25zM352.98 449.07h1.25v1.25h-1.25zM359.98 444.39h1.25v1.25h-1.25zM363.25 446.27h1.25v1.25h-1.25zM350.39 451.48h1.25v1.25h-1.25zM351.65 449.36h1.25v1.25h-1.25zM372.58 436.99h1.25v1.25h-1.25zM352.53 452.06h1.25v1.25h-1.25zM366.13 438.88h1.25v1.25h-1.25zM364.97 443.33h1.25v1.25h-1.25zM366.78 439.48h1.25v1.25h-1.25zM359.43 445.65h1.25v1.25h-1.25zM366.93 440.9h1.25v1.25h-1.25zM364 440.86h1.25v1.25h-1.25zM369.59 435.33h1.25v1.25h-1.25zM357.05 447.63h1.25v1.25h-1.25zM372.17 438.37h1.25v1.25h-1.25zM369.48 436.87h1.25v1.25h-1.25zM355.24 445.4h1.25v1.25h-1.25zM363.24 442.64h1.25v1.25h-1.25zM371.21 434.64h1.25v1.25h-1.25zM359.59 442.5h1.25v1.25h-1.25zM358.52 447.17h1.25v1.25h-1.25zM353.61 450.11h1.25v1.25h-1.25zM361.46 444.79h1.25v1.25h-1.25zM365 439.88h1.25v1.25h-1.25zM360.64 444.3h1.25v1.25h-1.25zM373.75 437.22h1.25v1.25h-1.25zM356.28 448.33h1.25v1.25h-1.25zM371.73 435.03h1.25v1.25h-1.25zM366.86 438.45h1.25v1.25h-1.25zM359.18 449.13h1.25v1.25h-1.25zM371.94 433.97h1.25v1.25h-1.25zM362.35 440.59h1.25v1.25h-1.25zM368.2 436.38h1.25v1.25h-1.25zM352.29 449.82h1.25v1.25h-1.25zM354.25 448.58h1.25v1.25h-1.25zM373.14 436.38h1.25v1.25h-1.25zM368.31 435.21h1.25v1.25h-1.25zM376.91 433.57h1.25v1.25h-1.25zM382.62 425.99h1.25v1.25h-1.25zM368.26 440.25h1.25v1.25h-1.25zM363.23 440.76h1.25v1.25h-1.25zM352.02 451.09h1.25v1.25h-1.25zM359.52 445.73h1.25v1.25h-1.25zM372.84 437.72h1.25v1.25h-1.25zM378.62 429.12h1.25v1.25h-1.25zM360.69 445.22h1.25v1.25h-1.25zM368.43 437.54h1.25v1.25h-1.25zM359.67 442.05h1.25v1.25h-1.25zM373.87 438.3h1.25v1.25h-1.25zM358.36 445.9h1.25v1.25h-1.25zM361.1 441.91h1.25v1.25h-1.25zM352.81 448.92h1.25v1.25h-1.25zM368.5 435.15h1.25v1.25h-1.25zM357.86 448.27h1.25v1.25h-1.25zM361.73 441.46h1.25v1.25h-1.25zM357.16 445.06h1.25v1.25h-1.25zM381.08 426.91h1.25v1.25h-1.25zM373.25 434.8h1.25v1.25h-1.25zM355.85 449.35h1.25v1.25h-1.25zM369.57 437.1h1.25v1.25h-1.25zM357.82 447.89h1.25v1.25h-1.25zM373.39 434.11h1.25v1.25h-1.25zM376.75 430.13h1.25v1.25h-1.25zM372.32 435.43h1.25v1.25h-1.25zM365.41 444.42h1.25v1.25h-1.25zM370.2 436.94h1.25v1.25h-1.25zM357.55 444.55h1.25v1.25h-1.25zM370.57 440.32h1.25v1.25h-1.25zM358.08 447.1h1.25v1.25h-1.25zM359.34 442.25h1.25v1.25h-1.25zM367.22 436.88h1.25v1.25h-1.25zM370.95 433.79h1.25v1.25h-1.25zM351.24 452.75h1.25v1.25h-1.25zM375.15 431.32h1.25v1.25h-1.25zM375.73 434.47h1.25v1.25h-1.25zM363.35 446.09h1.25v1.25h-1.25zM363.16 441.03h1.25v1.25h-1.25zM356.08 445.45h1.25v1.25h-1.25zM354.07 449.52h1.25v1.25h-1.25zM356.65 443.63h1.25v1.25h-1.25zM356.06 448.24h1.25v1.25h-1.25zM380.08 428.36h1.25v1.25h-1.25zM366.41 440.87h1.25v1.25h-1.25zM355.89 449.38h1.25v1.25h-1.25zM376.76 430.13h1.25v1.25h-1.25zM375.21 430.85h1.25v1.25h-1.25zM369.58 439.97h1.25v1.25h-1.25zM368.68 442.01h1.25v1.25h-1.25zM363.69 440.27h1.25v1.25h-1.25zM375.47 431.04h1.25v1.25h-1.25zM368.77 437.4h1.25v1.25h-1.25zM356.97 447.15h1.25v1.25h-1.25zM356.62 445.1h1.25v1.25h-1.25zM366 437.04h1.25v1.25h-1.25zM376.87 432.4h1.25v1.25h-1.25zM372.3 439h1.25v1.25h-1.25zM365.33 440.05h1.25v1.25h-1.25zM367.43 435.95h1.25v1.25h-1.25zM360.05 446.04h1.25v1.25h-1.25zM350.13 452.17h1.25v1.25h-1.25zM367.58 441.47h1.25v1.25h-1.25zM361.96 443.2h1.25v1.25h-1.25zM356.24 447.56h1.25v1.25h-1.25zM354.62 449.8h1.25v1.25h-1.25zM350.64 449.72h1.25v1.25h-1.25zM369.26 437.99h1.25v1.25h-1.25zM359.69 448.63h1.25v1.25h-1.25zM357.86 446.07h1.25v1.25h-1.25zM383.34 425.21h1.25v1.25h-1.25zM366.93 440.25h1.25v1.25h-1.25zM353.23 447.44h1.25v1.25h-1.25zM358.12 449.58h1.25v1.25h-1.25zM352.77 447.47h1.25v1.25h-1.25zM365.44 445.19h1.25v1.25h-1.25zM359.87 441.95h1.25v1.25h-1.25zM370.92 433.1h1.25v1.25h-1.25zM372.64 434.48h1.25v1.25h-1.25zM364.32 444.34h1.25v1.25h-1.25zM365.29 439.63h1.25v1.25h-1.25zM366.7 438.43h1.25v1.25h-1.25zM371.71 439.14h1.25v1.25h-1.25zM354.63 445.01h1.25v1.25h-1.25zM353.91 449.55h1.25v1.25h-1.25zM351.52 449.64h1.25v1.25h-1.25zM360.3 443.75h1.25v1.25h-1.25zM373.72 437.99h1.25v1.25h-1.25zM373.89 431.39h1.25v1.25h-1.25zM358.22 446.87h1.25v1.25h-1.25zM365.76 443.82h1.25v1.25h-1.25zM368.76 439.44h1.25v1.25h-1.25zM362.32 440.61h1.25v1.25h-1.25zM350.26 453.25h1.25v1.25h-1.25zM354.41 449.25h1.25v1.25h-1.25zM358.78 447.81h1.25v1.25h-1.25zM374.83 432.5h1.25v1.25h-1.25zM366.02 440.42h1.25v1.25h-1.25zM361.4 444.44h1.25v1.25h-1.25zM367.59 439.05h1.25v1.25h-1.25zM372.33 434.59h1.25v1.25h-1.25zM375.56 435.24h1.25v1.25h-1.25zM350.72 448.96h1.25v1.25h-1.25zM370.17 439.89h1.25v1.25h-1.25zM351.53 450.49h1.25v1.25h-1.25zM354.39 446.53h1.25v1.25h-1.25zM376.23 433.16h1.25v1.25h-1.25zM351.58 451.95h1.25v1.25h-1.25zM370.94 437.41h1.25v1.25h-1.25zM350.94 451.52h1.25v1.25h-1.25zM353.69 450.08h1.25v1.25h-1.25zM363.63 446.4h1.25v1.25h-1.25zM362.96 439.72h1.25v1.25h-1.25zM372.56 435.26h1.25v1.25h-1.25zM372.31 436.61h1.25v1.25h-1.25zM373.66 433.18h1.25v1.25h-1.25zM364.86 440.75h1.25v1.25h-1.25zM372.04 434.59h1.25v1.25h-1.25zM363.88 442.2h1.25v1.25h-1.25zM371.86 437.44h1.25v1.25h-1.25zM370.56 437.31h1.25v1.25h-1.25zM353.14 449.68h1.25v1.25h-1.25zM359.16 441.31h1.25v1.25h-1.25zM358.56 448.55h1.25v1.25h-1.25zM359.57 447.75h1.25v1.25h-1.25zM357 442.94h1.25v1.25h-1.25zM368.37 436.85h1.25v1.25h-1.25zM355.42 451.49h1.25v1.25h-1.25zM369.98 440.62h1.25v1.25h-1.25zM356.54 444.87h1.25v1.25h-1.25zM372.78 436.2h1.25v1.25h-1.25zM360.71 448.3h1.25v1.25h-1.25zM352.28 448.88h1.25v1.25h-1.25zM351.96 450.02h1.25v1.25h-1.25zM363.24 441.87h1.25v1.25h-1.25zM366.64 440.25h1.25v1.25h-1.25zM355.29 446.23h1.25v1.25h-1.25zM378.92 430.2h1.25v1.25h-1.25zM374.31 437.67h1.25v1.25h-1.25zM373.59 435.18h1.25v1.25h-1.25zM372.05 438.93h1.25v1.25h-1.25zM354.23 449.13h1.25v1.25h-1.25zM358.59 442.51h1.25v1.25h-1.25zM367.44 443.89h1.25v1.25h-1.25zM354.77 448.77h1.25v1.25h-1.25zM350.19 452.1h1.25v1.25h-1.25zM360.99 445.92h1.25v1.25h-1.25zM378.4 429.75h1.25v1.25h-1.25zM368.65 439.89h1.25v1.25h-1.25zM370.37 434.12h1.25v1.25h-1.25zM373.24 436.45h1.25v1.25h-1.25zM370.99 440.42h1.25v1.25h-1.25zM373.89 434.25h1.25v1.25h-1.25zM365.57 438.46h1.25v1.25h-1.25zM349.18 451.46h1.25v1.25h-1.25zM367.04 438.99h1.25v1.25h-1.25zM372.35 433.12h1.25v1.25h-1.25zM351.42 448.21h1.25v1.25h-1.25zM378.17 431.95h1.25v1.25h-1.25zM362.88 439.09h1.25v1.25h-1.25zM358.01 448.95h1.25v1.25h-1.25zM357.8 448.36h1.25v1.25h-1.25zM352.58 448.36h1.25v1.25h-1.25zM373.75 433.94h1.25v1.25h-1.25zM360.26 445.96h1.25v1.25h-1.25zM379.99 428.54h1.25v1.25h-1.25zM359.92 443.45h1.25v1.25h-1.25zM358.28 442.2h1.25v1.25h-1.25zM367.7 441.64h1.25v1.25h-1.25zM352.81 449.08h1.25v1.25h-1.25zM352.49 447.67h1.25v1.25h-1.25zM371.66 433.42h1.25v1.25h-1.25zM350.5 452.08h1.25v1.25h-1.25zM351.01 450.13h1.25v1.25h-1.25zM369.54 438.9h1.25v1.25h-1.25zM366.67 441.5h1.25v1.25h-1.25zM369.15 437.99h1.25v1.25h-1.25zM366.7 444.49h1.25v1.25h-1.25zM361.87 444.82h1.25v1.25h-1.25zM353.93 447.86h1.25v1.25h-1.25zM365.11 445.63h1.25v1.25h-1.25zM372.88 434.22h1.25v1.25h-1.25zM354.97 451.1h1.25v1.25h-1.25zM376.51 433.02h1.25v1.25h-1.25zM375.61 430.54h1.25v1.25h-1.25zM354.3 445.56h1.25v1.25h-1.25zM357.88 446.67h1.25v1.25h-1.25zM367.04 443.43h1.25v1.25h-1.25zM368.03 436.67h1.25v1.25h-1.25zM371.74 434.74h1.25v1.25h-1.25zM369.2 441.9h1.25v1.25h-1.25zM363.54 443.91h1.25v1.25h-1.25zM352.96 450.31h1.25v1.25h-1.25zM363.81 443.61h1.25v1.25h-1.25zM364.16 439.89h1.25v1.25h-1.25zM362.13 440.95h1.25v1.25h-1.25zM362.22 445.16h1.25v1.25h-1.25zM372.42 437.42h1.25v1.25h-1.25zM363.52 438.2h1.25v1.25h-1.25zM373.77 437.66h1.25v1.25h-1.25zM359.78 448.49h1.25v1.25h-1.25zM367.29 440.94h1.25v1.25h-1.25zM355.79 447.37h1.25v1.25h-1.25zM369.25 438.75h1.25v1.25h-1.25zM361.19 439.79h1.25v1.25h-1.25zM366.09 439.11h1.25v1.25h-1.25zM366.07 437.8h1.25v1.25h-1.25zM363.08 439.01h1.25v1.25h-1.25zM358.2 447.42h1.25v1.25h-1.25zM351.18 451.27h1.25v1.25h-1.25zM369.7 439.65h1.25v1.25h-1.25zM359.89 443.93h1.25v1.25h-1.25zM382.1 426.3h1.25v1.25h-1.25zM352.5 451.14h1.25v1.25h-1.25zM351.1 451.19h1.25v1.25h-1.25zM364.16 437.74h1.25v1.25h-1.25zM359.31 445.15h1.25v1.25h-1.25zM374.04 434.02h1.25v1.25h-1.25zM353.78 450.86h1.25v1.25h-1.25zM362.1 439.94h1.25v1.25h-1.25zM350.14 452.3h1.25v1.25h-1.25zM371.83 439.36h1.25v1.25h-1.25zM352.95 448.31h1.25v1.25h-1.25zM375.31 436.01h1.25v1.25h-1.25zM360.85 442.15h1.25v1.25h-1.25zM374.64 435.75h1.25v1.25h-1.25zM361.8 439.87h1.25v1.25h-1.25zM362.61 443.47h1.25v1.25h-1.25zM362.37 441.16h1.25v1.25h-1.25zM369.42 437.96h1.25v1.25h-1.25zM360.68 443.39h1.25v1.25h-1.25zM378.63 431.43h1.25v1.25h-1.25zM364.79 439.06h1.25v1.25h-1.25zM359.15 441.35h1.25v1.25h-1.25zM361.6 445.6h1.25v1.25h-1.25zM363.59 443.21h1.25v1.25h-1.25zM370.59 435.31h1.25v1.25h-1.25zM360.39 448.01h1.25v1.25h-1.25zM359.75 445.53h1.25v1.25h-1.25zM367.48 435.93h1.25v1.25h-1.25zM361.47 447.21h1.25v1.25h-1.25zM365.6 440.89h1.25v1.25h-1.25zM365.52 438.68h1.25v1.25h-1.25zM360.59 447h1.25v1.25h-1.25zM362.02 444.07h1.25v1.25h-1.25zM364.04 442.11h1.25v1.25h-1.25zM381.37 426.7h1.25v1.25h-1.25zM366.35 439.54h1.25v1.25h-1.25zM369.78 440.92h1.25v1.25h-1.25zM374.77 433.45h1.25v1.25h-1.25zM372.6 435.41h1.25v1.25h-1.25zM351 453.07h1.25v1.25h-1.25zM371.35 433.41h1.25v1.25h-1.25zM362.24 439.1h1.25v1.25h-1.25zM364.53 443.12h1.25v1.25h-1.25zM361.38 441.27h1.25v1.25h-1.25zM374.78 435.16h1.25v1.25h-1.25zM370.45 436.48h1.25v1.25h-1.25zM370.7 436.62h1.25v1.25h-1.25zM353.49 448.94h1.25v1.25h-1.25zM371.28 434.96h1.25v1.25h-1.25zM351.17 451.26h1.25v1.25h-1.25zM369.32 439.44h1.25v1.25h-1.25zM371.83 439.03h1.25v1.25h-1.25zM361.29 447.38h1.25v1.25h-1.25zM355.71 448.96h1.25v1.25h-1.25zM367.65 441.6h1.25v1.25h-1.25zM367.9 441.51h1.25v1.25h-1.25zM367.78 437.85h1.25v1.25h-1.25zM354.6 445.82h1.25v1.25h-1.25zM351.39 452.38h1.25v1.25h-1.25zM380.06 429.07h1.25v1.25h-1.25zM364.15 439.46h1.25v1.25h-1.25zM373.06 437.24h1.25v1.25h-1.25zM358.81 448.65h1.25v1.25h-1.25zM352.59 449.04h1.25v1.25h-1.25zM374.56 437.08h1.25v1.25h-1.25zM353.25 451.84h1.25v1.25h-1.25zM371.39 434.76h1.25v1.25h-1.25zM364.51 440.15h1.25v1.25h-1.25zM355.75 446.35h1.25v1.25h-1.25zM361.91 444.94h1.25v1.25h-1.25zM368.1 442.42h1.25v1.25h-1.25zM365.61 439.5h1.25v1.25h-1.25zM352.6 448.87h1.25v1.25h-1.25zM351.72 448.5h1.25v1.25h-1.25zM375.46 430.49h1.25v1.25h-1.25zM353.44 450.5h1.25v1.25h-1.25zM368.3 441.87h1.25v1.25h-1.25zM361.78 445.9h1.25v1.25h-1.25zM361.09 442.43h1.25v1.25h-1.25zM373.07 438.02h1.25v1.25h-1.25zM359.97 446.4h1.25v1.25h-1.25zM373.88 436.73h1.25v1.25h-1.25zM354.2 446.67h1.25v1.25h-1.25zM357.43 444.53h1.25v1.25h-1.25zM377.11 432.45h1.25v1.25h-1.25zM364.91 441.61h1.25v1.25h-1.25zM370.58 436.15h1.25v1.25h-1.25zM354.47 449.1h1.25v1.25h-1.25zM362.09 444.04h1.25v1.25h-1.25zM375.57 432.8h1.25v1.25h-1.25zM369.63 436.47h1.25v1.25h-1.25zM373.92 437.49h1.25v1.25h-1.25zM363.88 441.97h1.25v1.25h-1.25zM375.13 432.19h1.25v1.25h-1.25zM373.68 433h1.25v1.25h-1.25zM362.44 440.82h1.25v1.25h-1.25zM380.59 427.58h1.25v1.25h-1.25zM368.26 440.41h1.25v1.25h-1.25zM363.21 442.71h1.25v1.25h-1.25zM375.27 435.97h1.25v1.25h-1.25zM360.21 444.54h1.25v1.25h-1.25zM360.4 444.64h1.25v1.25h-1.25zM358.29 445.5h1.25v1.25h-1.25zM377.18 432.18h1.25v1.25h-1.25zM356.81 446.2h1.25v1.25h-1.25zM362.91 440.08h1.25v1.25h-1.25zM350.76 449.7h1.25v1.25h-1.25zM380.48 427.76h1.25v1.25h-1.25zM362.55 443.08h1.25v1.25h-1.25zM360.98 440.63h1.25v1.25h-1.25zM360.81 440.58h1.25v1.25h-1.25zM371.57 433.54h1.25v1.25h-1.25zM364.09 439.14h1.25v1.25h-1.25zM350.47 450.21h1.25v1.25h-1.25zM361.27 442.18h1.25v1.25h-1.25zM358.51 446.1h1.25v1.25h-1.25zM370.01 437h1.25v1.25h-1.25zM363.05 446.71h1.25v1.25h-1.25zM369.92 439.82h1.25v1.25h-1.25zM379.42 430.13h1.25v1.25h-1.25zM374.08 435.66h1.25v1.25h-1.25zM364.21 438.18h1.25v1.25h-1.25zM379.94 429.01h1.25v1.25h-1.25zM355.88 445.52h1.25v1.25h-1.25zM366.79 437.85h1.25v1.25h-1.25zM353.77 451.99h1.25v1.25h-1.25zM376.39 432h1.25v1.25h-1.25zM358.81 448.52h1.25v1.25h-1.25zM357.06 445.54h1.25v1.25h-1.25zM372.77 432.32h1.25v1.25h-1.25zM362.66 446.28h1.25v1.25h-1.25zM367.76 443.35h1.25v1.25h-1.25zM360.6 442.8h1.25v1.25h-1.25zM367.24 438.56h1.25v1.25h-1.25zM350.3 449.64h1.25v1.25h-1.25zM369.21 436.85h1.25v1.25h-1.25zM368.76 440.8h1.25v1.25h-1.25zM375.99 432.13h1.25v1.25h-1.25zM373.86 432.92h1.25v1.25h-1.25zM371.08 436.36h1.25v1.25h-1.25zM361.75 441.68h1.25v1.25h-1.25zM356.39 445.75h1.25v1.25h-1.25zM370.38 435.66h1.25v1.25h-1.25zM357.18 445.74h1.25v1.25h-1.25zM363.15 445.11h1.25v1.25h-1.25zM361.83 440.3h1.25v1.25h-1.25zM367.97 435.4h1.25v1.25h-1.25zM370.15 436.77h1.25v1.25h-1.25zM353.76 446.98h1.25v1.25h-1.25zM355.33 447.68h1.25v1.25h-1.25zM361.85 440.91h1.25v1.25h-1.25zM354.58 446.6h1.25v1.25h-1.25zM379.44 429.27h1.25v1.25h-1.25zM349.96 451.23h1.25v1.25h-1.25zM357.94 442.91h1.25v1.25h-1.25zM354.92 447.28h1.25v1.25h-1.25zM361.18 441.56h1.25v1.25h-1.25zM370.05 440.32h1.25v1.25h-1.25zM367.99 441.78h1.25v1.25h-1.25zM365.64 445.85h1.25v1.25h-1.25zM367.79 434.45h1.25v1.25h-1.25zM349.11 449.17h1.25v1.25h-1.25zM380.36 426.13h1.25v1.25h-1.25zM383.72 426.24h1.25v1.25h-1.25zM381.78 425.17h1.25v1.25h-1.25zM357.8 450.93h1.25v1.25h-1.25zM357.31 451.61h1.25v1.25h-1.25zM369.07 433.29h1.25v1.25h-1.25zM363.1 448.15h1.25v1.25h-1.25zM380.69 426.39h1.25v1.25h-1.25zM351.73 447.18h1.25v1.25h-1.25zM357.56 451.39h1.25v1.25h-1.25zM355.63 442.79h1.25v1.25h-1.25zM363.58 436.99h1.25v1.25h-1.25zM369.75 442.43h1.25v1.25h-1.25zM376.67 435.98h1.25v1.25h-1.25zM362.38 438.53h1.25v1.25h-1.25zM348.34 452.41h1.25v1.25h-1.25zM356.23 451.88h1.25v1.25h-1.25zM363.9 447.61h1.25v1.25h-1.25zM348.89 453.05h1.25v1.25h-1.25zM366.56 435.82h1.25v1.25h-1.25zM366.95 434.54h1.25v1.25h-1.25zM364.81 435.91h1.25v1.25h-1.25zM355.42 442.96h1.25v1.25h-1.25zM378.04 427.74h1.25v1.25h-1.25zM357.98 441.16h1.25v1.25h-1.25zM368.26 434.44h1.25v1.25h-1.25zM348.75 452.7h1.25v1.25h-1.25zM374.81 430.52h1.25v1.25h-1.25zM381.73 427.58h1.25v1.25h-1.25zM376.4 436.45h1.25v1.25h-1.25zM360.65 439.16h1.25v1.25h-1.25zM381.39 427.95h1.25v1.25h-1.25zM360.04 449.16h1.25v1.25h-1.25zM378.05 427.84h1.25v1.25h-1.25zM371.47 440.78h1.25v1.25h-1.25zM373.1 431.49h1.25v1.25h-1.25zM348.51 451.72h1.25v1.25h-1.25zM361.22 448.38h1.25v1.25h-1.25zM373.37 430.36h1.25v1.25h-1.25zM358.48 441.1h1.25v1.25h-1.25zM378.85 431.84h1.25v1.25h-1.25zM348.27 450.38h1.25v1.25h-1.25zM378.2 427.73h1.25v1.25h-1.25zM369.05 434.3h1.25v1.25h-1.25zM376.73 434.37h1.25v1.25h-1.25zM371.14 432.92h1.25v1.25h-1.25zM349.47 450.03h1.25v1.25h-1.25zM376.62 429.82h1.25v1.25h-1.25zM357.15 451.55h1.25v1.25h-1.25zM363.92 436.4h1.25v1.25h-1.25zM361.93 437.87h1.25v1.25h-1.25zM360.45 448.81h1.25v1.25h-1.25zM366.77 445.21h1.25v1.25h-1.25zM379.46 431.19h1.25v1.25h-1.25zM355.96 451.31h1.25v1.25h-1.25zM356.37 442.22h1.25v1.25h-1.25zM374.24 430.43h1.25v1.25h-1.25z" fill="#66b7d2"/>
<rect x="388.95" y="419.35" width="1.3" height="1.3" fill="#66b7d2" />
<rect x="346.25" y="447.45" width="1.3" height="1.3" fill="#66b7d2" />
<rect x="346.25" y="449.05" width="1.3" height="1.3" fill="#66b7d2" />
<rect x="353.05" y="441.65" width="1.3" height="1.3" fill="#66b7d2" />
<rect x="356.85" y="438.45" width="1.3" height="1.3" fill="#66b7d2" />
<rect x="358.35" y="438.85" width="1.3" height="1.3" fill="#66b7d2" />
<rect x="363.65" y="434.75" width="1.3" height="1.3" fill="#66b7d2" />
<rect x="368.45" y="431.55" width="1.3" height="1.3" fill="#66b7d2" />
<rect x="371.65" y="427.15" width="1.3" height="1.3" fill="#66b7d2" />
<rect x="376.85" y="425.05" width="1.3" height="1.3" fill="#66b7d2" />
<rect x="348.85" y="456.65" width="1.3" height="1.3" fill="#66b7d2" />
<rect x="384.85" y="424.15" width="1.3" height="1.3" fill="#66b7d2" />
<rect x="386.35" y="422.85" width="1.3" height="1.3" fill="#66b7d2" />
<line x1="334.1" y1="401.2" x2="337.2" y2="401.2" stroke="#2a2a2a" stroke-width="1" />
<text x="331" y="403.7" font-size="7.1" text-anchor="end" textLength="11.08" lengthAdjust="spacingAndGlyphs" >100</text>
<line x1="334.1" y1="419.3" x2="337.2" y2="419.3" stroke="#2a2a2a" stroke-width="1" />
<text x="331" y="421.8" font-size="7.1" text-anchor="end" textLength="3.69" lengthAdjust="spacingAndGlyphs" >1</text>
<line x1="334.1" y1="437.8" x2="337.2" y2="437.8" stroke="#2a2a2a" stroke-width="1" />
<text x="331" y="440.3" font-size="7.1" text-anchor="end" textLength="12.92" lengthAdjust="spacingAndGlyphs" >0.01</text>
<line x1="334.1" y1="455.5" x2="337.2" y2="455.5" stroke="#2a2a2a" stroke-width="1" />
<text x="331" y="458" font-size="7.1" text-anchor="end" textLength="20.3" lengthAdjust="spacingAndGlyphs" >0.0001</text>
<line x1="337.2" y1="398.2" x2="337.2" y2="472.5" stroke="#2a2a2a" stroke-width="1.6" />
<line x1="336.7" y1="471.9" x2="411.5" y2="471.9" stroke="#2a2a2a" stroke-width="1.4" />
<line x1="354.2" y1="471.9" x2="354.2" y2="474.9" stroke="#2a2a2a" stroke-width="1" />
<text transform="translate(357.4 482) rotate(-45)" font-size="7.6" text-anchor="end" textLength="20.63" lengthAdjust="spacingAndGlyphs">0.0001</text>
<line x1="371.9" y1="471.9" x2="371.9" y2="474.9" stroke="#2a2a2a" stroke-width="1" />
<text transform="translate(375.1 482) rotate(-45)" font-size="7.6" text-anchor="end" textLength="13.13" lengthAdjust="spacingAndGlyphs">0.01</text>
<line x1="389.6" y1="471.9" x2="389.6" y2="474.9" stroke="#2a2a2a" stroke-width="1" />
<text transform="translate(392.8 482) rotate(-45)" font-size="7.6" text-anchor="end" textLength="3.75" lengthAdjust="spacingAndGlyphs">1</text>
<line x1="407.3" y1="471.9" x2="407.3" y2="474.9" stroke="#2a2a2a" stroke-width="1" />
<text transform="translate(410.5 482) rotate(-45)" font-size="7.6" text-anchor="end" textLength="11.25" lengthAdjust="spacingAndGlyphs">100</text>
<line x1="440.5" y1="470.5" x2="509.6" y2="402.3" stroke="#c8c8c8" stroke-width="0.6" stroke-dasharray="1.2 1.2"/>
<path d="M463.88 447.14h1.25v1.25h-1.25zM471.48 440.52h1.25v1.25h-1.25zM461.58 446.79h1.25v1.25h-1.25zM458.19 450.16h1.25v1.25h-1.25zM459.16 446.95h1.25v1.25h-1.25zM462.46 447.04h1.25v1.25h-1.25zM470.9 434.43h1.25v1.25h-1.25zM457.73 451.64h1.25v1.25h-1.25zM465.26 438.74h1.25v1.25h-1.25zM475.81 432.96h1.25v1.25h-1.25zM474.58 433.61h1.25v1.25h-1.25zM452.79 454.84h1.25v1.25h-1.25zM465.15 443.25h1.25v1.25h-1.25zM453.1 451.11h1.25v1.25h-1.25zM464.7 443.67h1.25v1.25h-1.25zM454.85 449.79h1.25v1.25h-1.25zM463.04 446.3h1.25v1.25h-1.25zM468.02 439.76h1.25v1.25h-1.25zM471.3 440.56h1.25v1.25h-1.25zM468.3 439.58h1.25v1.25h-1.25zM466.7 441.93h1.25v1.25h-1.25zM464.43 441.06h1.25v1.25h-1.25zM465.62 441.43h1.25v1.25h-1.25zM465.56 445.76h1.25v1.25h-1.25zM457.22 450.43h1.25v1.25h-1.25zM478.6 430.17h1.25v1.25h-1.25zM469.83 436.84h1.25v1.25h-1.25zM454.19 453.64h1.25v1.25h-1.25zM473.1 434.36h1.25v1.25h-1.25zM451.55 454.64h1.25v1.25h-1.25zM456.79 449.72h1.25v1.25h-1.25zM467.98 435.92h1.25v1.25h-1.25zM466.17 437.99h1.25v1.25h-1.25zM469.17 438.18h1.25v1.25h-1.25zM466.4 444.91h1.25v1.25h-1.25zM460.88 447.89h1.25v1.25h-1.25zM462.48 442.89h1.25v1.25h-1.25zM458.48 447.52h1.25v1.25h-1.25zM469.62 435.8h1.25v1.25h-1.25zM460.9 446.09h1.25v1.25h-1.25zM465.43 442.86h1.25v1.25h-1.25zM460.01 446.7h1.25v1.25h-1.25zM471.09 435.73h1.25v1.25h-1.25zM453.17 452.73h1.25v1.25h-1.25zM466.89 442.78h1.25v1.25h-1.25zM475.71 434.43h1.25v1.25h-1.25zM463.35 443.97h1.25v1.25h-1.25zM468.76 439.06h1.25v1.25h-1.25zM461.05 446.24h1.25v1.25h-1.25zM463.98 440.56h1.25v1.25h-1.25zM470.61 439.48h1.25v1.25h-1.25zM466.27 445.56h1.25v1.25h-1.25zM470.3 438.16h1.25v1.25h-1.25zM474.6 432.31h1.25v1.25h-1.25zM464.21 447.22h1.25v1.25h-1.25zM453.27 451.91h1.25v1.25h-1.25zM457.2 452.27h1.25v1.25h-1.25zM467.91 438.42h1.25v1.25h-1.25zM471.52 434.37h1.25v1.25h-1.25zM473.04 433.37h1.25v1.25h-1.25zM453.05 451.93h1.25v1.25h-1.25zM455.98 448.58h1.25v1.25h-1.25zM462.16 448.35h1.25v1.25h-1.25zM451.39 454.41h1.25v1.25h-1.25zM470.1 437.69h1.25v1.25h-1.25zM464.68 443.39h1.25v1.25h-1.25zM455.74 452.68h1.25v1.25h-1.25zM467.23 441.73h1.25v1.25h-1.25zM465.58 442.1h1.25v1.25h-1.25zM451.8 454.63h1.25v1.25h-1.25zM456.53 447.26h1.25v1.25h-1.25zM469.72 434.33h1.25v1.25h-1.25zM464.46 440.09h1.25v1.25h-1.25zM454.77 448.46h1.25v1.25h-1.25zM475.86 433.96h1.25v1.25h-1.25zM455.02 447.84h1.25v1.25h-1.25zM476.33 431.75h1.25v1.25h-1.25zM471.38 436.66h1.25v1.25h-1.25zM476.3 433.04h1.25v1.25h-1.25zM478.68 430.27h1.25v1.25h-1.25zM457 452.16h1.25v1.25h-1.25zM472.39 433.32h1.25v1.25h-1.25zM471.57 438.64h1.25v1.25h-1.25zM458.32 448.38h1.25v1.25h-1.25zM457.51 448.73h1.25v1.25h-1.25zM474.23 437.45h1.25v1.25h-1.25zM473.45 436.67h1.25v1.25h-1.25zM456.89 447.72h1.25v1.25h-1.25zM466.53 443.06h1.25v1.25h-1.25zM466.78 440.09h1.25v1.25h-1.25zM466.18 440.29h1.25v1.25h-1.25zM461.28 449.2h1.25v1.25h-1.25zM468.16 435.62h1.25v1.25h-1.25zM468.37 435.38h1.25v1.25h-1.25zM464.54 442.78h1.25v1.25h-1.25zM467.31 443.98h1.25v1.25h-1.25zM452.38 451.49h1.25v1.25h-1.25zM473.36 433.16h1.25v1.25h-1.25zM468.97 435.45h1.25v1.25h-1.25zM475.25 431.64h1.25v1.25h-1.25zM468.2 439.08h1.25v1.25h-1.25zM467.04 443.29h1.25v1.25h-1.25zM468.55 438.95h1.25v1.25h-1.25zM459.06 446.73h1.25v1.25h-1.25zM474.98 434.36h1.25v1.25h-1.25zM468.4 435.95h1.25v1.25h-1.25zM464.55 443.55h1.25v1.25h-1.25zM468.22 439.57h1.25v1.25h-1.25zM470.02 440.19h1.25v1.25h-1.25zM470.27 440h1.25v1.25h-1.25zM467.92 437.91h1.25v1.25h-1.25zM464.58 439.9h1.25v1.25h-1.25zM476.83 432.3h1.25v1.25h-1.25zM465.2 441.19h1.25v1.25h-1.25zM463.4 445.95h1.25v1.25h-1.25zM461.76 445.32h1.25v1.25h-1.25zM475.93 433.94h1.25v1.25h-1.25zM467.23 444.7h1.25v1.25h-1.25zM466.95 444.71h1.25v1.25h-1.25zM462.62 445.17h1.25v1.25h-1.25zM474.98 433.04h1.25v1.25h-1.25zM452.58 451.03h1.25v1.25h-1.25zM470.83 435.29h1.25v1.25h-1.25zM461.96 448.01h1.25v1.25h-1.25zM471.57 437.73h1.25v1.25h-1.25zM463 444.24h1.25v1.25h-1.25zM453.72 453.52h1.25v1.25h-1.25zM471.44 438.9h1.25v1.25h-1.25zM463.83 446.39h1.25v1.25h-1.25zM471.15 437.58h1.25v1.25h-1.25zM469.84 435.92h1.25v1.25h-1.25zM459.65 449.98h1.25v1.25h-1.25zM451.3 452.48h1.25v1.25h-1.25zM469.74 434.5h1.25v1.25h-1.25zM472.13 433.68h1.25v1.25h-1.25zM463.48 442.42h1.25v1.25h-1.25zM472.69 438.83h1.25v1.25h-1.25zM455.47 448.76h1.25v1.25h-1.25zM476.89 431.03h1.25v1.25h-1.25zM463.14 443.39h1.25v1.25h-1.25zM471.52 434.25h1.25v1.25h-1.25zM468.55 436.25h1.25v1.25h-1.25zM472.79 438.01h1.25v1.25h-1.25zM470.92 439.57h1.25v1.25h-1.25zM473.03 433.07h1.25v1.25h-1.25zM476.98 433.96h1.25v1.25h-1.25zM466.46 437.57h1.25v1.25h-1.25zM453.65 451.98h1.25v1.25h-1.25zM471.39 435.74h1.25v1.25h-1.25zM469.73 440.68h1.25v1.25h-1.25zM456.85 449.69h1.25v1.25h-1.25zM456.56 450.76h1.25v1.25h-1.25zM474.84 436.86h1.25v1.25h-1.25zM466.35 441.86h1.25v1.25h-1.25zM467.96 436.8h1.25v1.25h-1.25zM468.16 442.42h1.25v1.25h-1.25zM460.07 446.15h1.25v1.25h-1.25zM461.45 445.55h1.25v1.25h-1.25zM473.76 437.87h1.25v1.25h-1.25zM455.14 449.96h1.25v1.25h-1.25zM459.79 447.49h1.25v1.25h-1.25zM463.47 447.71h1.25v1.25h-1.25zM470.73 435.68h1.25v1.25h-1.25zM471.63 440.42h1.25v1.25h-1.25zM463.82 444.77h1.25v1.25h-1.25zM457.03 450.78h1.25v1.25h-1.25zM473.98 432.59h1.25v1.25h-1.25zM463.7 443.21h1.25v1.25h-1.25zM450.97 454.27h1.25v1.25h-1.25zM474.42 433.57h1.25v1.25h-1.25zM470.97 434.74h1.25v1.25h-1.25zM461.26 446.99h1.25v1.25h-1.25zM470.74 440.17h1.25v1.25h-1.25zM461.2 448.18h1.25v1.25h-1.25zM467.38 439.3h1.25v1.25h-1.25zM465.46 439.61h1.25v1.25h-1.25zM466.08 444.48h1.25v1.25h-1.25zM473.92 434.96h1.25v1.25h-1.25zM474.78 434.19h1.25v1.25h-1.25zM470.74 439.1h1.25v1.25h-1.25zM452.57 452.35h1.25v1.25h-1.25zM452.56 452.43h1.25v1.25h-1.25zM457.48 447.58h1.25v1.25h-1.25zM468.46 435.14h1.25v1.25h-1.25zM461.67 448.31h1.25v1.25h-1.25zM469.43 436.46h1.25v1.25h-1.25zM462.76 444.28h1.25v1.25h-1.25zM462.82 442.34h1.25v1.25h-1.25zM470.81 436.9h1.25v1.25h-1.25zM456.19 448.88h1.25v1.25h-1.25zM454.6 453.47h1.25v1.25h-1.25zM470.01 438.27h1.25v1.25h-1.25zM452.85 450.36h1.25v1.25h-1.25zM473.14 438.73h1.25v1.25h-1.25zM466.32 444.09h1.25v1.25h-1.25zM466.28 440.67h1.25v1.25h-1.25zM469.94 440.72h1.25v1.25h-1.25zM469.43 439.64h1.25v1.25h-1.25zM464.76 445.68h1.25v1.25h-1.25zM454.17 451.19h1.25v1.25h-1.25zM453.39 450.24h1.25v1.25h-1.25zM462.16 446.64h1.25v1.25h-1.25zM461.99 444.96h1.25v1.25h-1.25zM451.05 453.07h1.25v1.25h-1.25zM479.47 429.7h1.25v1.25h-1.25zM454.83 449.27h1.25v1.25h-1.25zM456.05 449.54h1.25v1.25h-1.25zM471.5 439.05h1.25v1.25h-1.25zM466.26 439.18h1.25v1.25h-1.25zM458.01 450.33h1.25v1.25h-1.25zM471.32 435.38h1.25v1.25h-1.25zM479.16 430.42h1.25v1.25h-1.25zM479.48 429.71h1.25v1.25h-1.25zM469.08 436.91h1.25v1.25h-1.25zM456.88 451.9h1.25v1.25h-1.25zM461.41 447.8h1.25v1.25h-1.25zM453.05 452.34h1.25v1.25h-1.25zM466.74 440.98h1.25v1.25h-1.25zM473.23 435.09h1.25v1.25h-1.25zM471.34 434.35h1.25v1.25h-1.25zM465.06 443.2h1.25v1.25h-1.25zM454.3 453.22h1.25v1.25h-1.25zM466.01 445.26h1.25v1.25h-1.25zM465.01 445.01h1.25v1.25h-1.25zM461.98 447.71h1.25v1.25h-1.25zM465.94 443.14h1.25v1.25h-1.25zM478.41 430.89h1.25v1.25h-1.25zM468.76 441.23h1.25v1.25h-1.25zM465.21 442.03h1.25v1.25h-1.25zM471.6 434.22h1.25v1.25h-1.25zM468.47 442.17h1.25v1.25h-1.25zM453.33 450.71h1.25v1.25h-1.25zM470.79 435.33h1.25v1.25h-1.25zM468.51 443.48h1.25v1.25h-1.25zM475.69 433.22h1.25v1.25h-1.25zM463.76 445.67h1.25v1.25h-1.25zM469.31 440.18h1.25v1.25h-1.25zM465.51 438.08h1.25v1.25h-1.25zM455.23 451.46h1.25v1.25h-1.25zM468.63 435.71h1.25v1.25h-1.25zM454.08 452.68h1.25v1.25h-1.25zM456.51 452.54h1.25v1.25h-1.25zM466.46 439.6h1.25v1.25h-1.25zM465.84 439.58h1.25v1.25h-1.25zM472.31 433.03h1.25v1.25h-1.25zM457.67 449.33h1.25v1.25h-1.25zM474.14 435.73h1.25v1.25h-1.25zM455.44 448.17h1.25v1.25h-1.25zM461.11 449.51h1.25v1.25h-1.25zM469.84 439.05h1.25v1.25h-1.25zM456.36 451.79h1.25v1.25h-1.25zM476.62 434.54h1.25v1.25h-1.25zM466.9 440.78h1.25v1.25h-1.25zM463.91 444.88h1.25v1.25h-1.25zM469.35 438.44h1.25v1.25h-1.25zM472.58 437.12h1.25v1.25h-1.25zM463.18 442.98h1.25v1.25h-1.25zM478.87 429.73h1.25v1.25h-1.25zM454.54 451.21h1.25v1.25h-1.25zM462.08 443.68h1.25v1.25h-1.25zM458.86 447.15h1.25v1.25h-1.25zM452.99 451.79h1.25v1.25h-1.25zM467.82 437.17h1.25v1.25h-1.25zM451.92 455.05h1.25v1.25h-1.25zM474.09 436.64h1.25v1.25h-1.25zM478.62 431.16h1.25v1.25h-1.25zM457.3 451.76h1.25v1.25h-1.25zM453.56 451.71h1.25v1.25h-1.25zM457.18 449.28h1.25v1.25h-1.25zM467.9 443.67h1.25v1.25h-1.25zM458.35 449.36h1.25v1.25h-1.25zM454.44 449.44h1.25v1.25h-1.25zM464.85 442.57h1.25v1.25h-1.25zM461.58 444.7h1.25v1.25h-1.25zM452.41 452.85h1.25v1.25h-1.25zM473.13 437.94h1.25v1.25h-1.25zM469.54 439.74h1.25v1.25h-1.25zM456.85 451.25h1.25v1.25h-1.25zM456.35 447.09h1.25v1.25h-1.25zM475.53 435.41h1.25v1.25h-1.25zM453.91 452.41h1.25v1.25h-1.25zM465.14 446.08h1.25v1.25h-1.25zM475.1 433.91h1.25v1.25h-1.25zM466.41 441.89h1.25v1.25h-1.25zM450.5 454.41h1.25v1.25h-1.25zM460.09 449.29h1.25v1.25h-1.25zM476.08 434.9h1.25v1.25h-1.25zM465.86 444.2h1.25v1.25h-1.25zM474.83 435.2h1.25v1.25h-1.25zM467.47 438.35h1.25v1.25h-1.25zM461.26 448.67h1.25v1.25h-1.25zM467.53 437.63h1.25v1.25h-1.25zM456.26 447.13h1.25v1.25h-1.25zM469.16 439.22h1.25v1.25h-1.25zM468.67 435.34h1.25v1.25h-1.25zM460.27 446.33h1.25v1.25h-1.25zM475.85 431.8h1.25v1.25h-1.25zM478.83 430.28h1.25v1.25h-1.25zM468.26 439.91h1.25v1.25h-1.25zM467.35 442.13h1.25v1.25h-1.25zM467.73 437.37h1.25v1.25h-1.25zM471.42 433.71h1.25v1.25h-1.25zM463.15 442.64h1.25v1.25h-1.25zM473.55 433.4h1.25v1.25h-1.25zM469.04 436.3h1.25v1.25h-1.25zM479.83 429.32h1.25v1.25h-1.25zM466.05 438.96h1.25v1.25h-1.25zM463.7 443.27h1.25v1.25h-1.25zM468.18 442.85h1.25v1.25h-1.25zM456.19 449.35h1.25v1.25h-1.25zM454.63 450.01h1.25v1.25h-1.25zM473.49 434.65h1.25v1.25h-1.25zM460.25 447.54h1.25v1.25h-1.25zM473.87 438.09h1.25v1.25h-1.25zM465.93 440.86h1.25v1.25h-1.25zM456.08 450.53h1.25v1.25h-1.25zM469.17 435.02h1.25v1.25h-1.25zM463.44 446.2h1.25v1.25h-1.25zM451.48 453.7h1.25v1.25h-1.25zM465.21 441.55h1.25v1.25h-1.25zM455.99 449.95h1.25v1.25h-1.25zM455.68 447.46h1.25v1.25h-1.25zM465.89 440.65h1.25v1.25h-1.25zM464.13 441.05h1.25v1.25h-1.25zM463.06 446.41h1.25v1.25h-1.25zM467.38 442.97h1.25v1.25h-1.25zM472.99 437.48h1.25v1.25h-1.25zM460.48 445.99h1.25v1.25h-1.25zM461.18 444.94h1.25v1.25h-1.25zM457.82 446.85h1.25v1.25h-1.25zM465.74 445.73h1.25v1.25h-1.25zM473.68 438.36h1.25v1.25h-1.25zM458.55 446.22h1.25v1.25h-1.25zM457.57 449.53h1.25v1.25h-1.25zM475.36 435.78h1.25v1.25h-1.25zM466.59 443.12h1.25v1.25h-1.25zM464.52 444.38h1.25v1.25h-1.25zM450.66 454.18h1.25v1.25h-1.25zM478.28 430.33h1.25v1.25h-1.25zM469.34 434.76h1.25v1.25h-1.25zM466.14 441.66h1.25v1.25h-1.25zM453.6 453.17h1.25v1.25h-1.25zM452.98 452.22h1.25v1.25h-1.25zM474.73 435.23h1.25v1.25h-1.25zM469.7 436.93h1.25v1.25h-1.25zM464.65 446.16h1.25v1.25h-1.25zM454.89 452.68h1.25v1.25h-1.25zM470.42 437.88h1.25v1.25h-1.25zM472.03 436.05h1.25v1.25h-1.25zM465.75 445.49h1.25v1.25h-1.25zM474.05 435.38h1.25v1.25h-1.25zM471.29 438.13h1.25v1.25h-1.25zM457.2 447.54h1.25v1.25h-1.25zM458.23 450.94h1.25v1.25h-1.25zM464.27 443.45h1.25v1.25h-1.25zM469.36 436.97h1.25v1.25h-1.25zM472.93 436.33h1.25v1.25h-1.25zM464.25 443.35h1.25v1.25h-1.25zM459.54 447.92h1.25v1.25h-1.25zM465.97 443.92h1.25v1.25h-1.25zM463.08 443.88h1.25v1.25h-1.25zM467.46 437.34h1.25v1.25h-1.25zM475.51 431.82h1.25v1.25h-1.25zM466.43 439.26h1.25v1.25h-1.25zM473.01 433.23h1.25v1.25h-1.25zM459.22 447.06h1.25v1.25h-1.25zM454.84 450.33h1.25v1.25h-1.25zM465.43 441.29h1.25v1.25h-1.25zM465.29 444.01h1.25v1.25h-1.25zM462.74 444.6h1.25v1.25h-1.25zM463 442.07h1.25v1.25h-1.25zM473.5 436.88h1.25v1.25h-1.25zM454.62 449.16h1.25v1.25h-1.25zM475.74 432.06h1.25v1.25h-1.25zM470.49 439.69h1.25v1.25h-1.25zM472.54 436h1.25v1.25h-1.25zM475.76 434.83h1.25v1.25h-1.25zM455.69 450.23h1.25v1.25h-1.25zM468.39 439.14h1.25v1.25h-1.25zM465.06 443.83h1.25v1.25h-1.25zM476.08 431.64h1.25v1.25h-1.25zM471.86 435.13h1.25v1.25h-1.25zM466.04 441.35h1.25v1.25h-1.25zM451.57 453.09h1.25v1.25h-1.25zM464.52 440.26h1.25v1.25h-1.25zM464.87 444.98h1.25v1.25h-1.25zM467.36 439.2h1.25v1.25h-1.25zM455.6 447.55h1.25v1.25h-1.25zM471.17 434.45h1.25v1.25h-1.25zM462.86 446.64h1.25v1.25h-1.25zM458.12 451.23h1.25v1.25h-1.25zM470.15 436.65h1.25v1.25h-1.25zM458.84 449.03h1.25v1.25h-1.25zM463.26 442.08h1.25v1.25h-1.25zM473.94 436.19h1.25v1.25h-1.25zM472.89 434.95h1.25v1.25h-1.25zM456.36 451.16h1.25v1.25h-1.25zM464.71 443.21h1.25v1.25h-1.25zM465.18 441.42h1.25v1.25h-1.25zM473.11 432.99h1.25v1.25h-1.25zM473.07 432.96h1.25v1.25h-1.25zM476.41 433.24h1.25v1.25h-1.25zM467.98 440.55h1.25v1.25h-1.25zM458.04 451.04h1.25v1.25h-1.25zM466.15 438.16h1.25v1.25h-1.25zM460.18 446.07h1.25v1.25h-1.25zM470.11 440.61h1.25v1.25h-1.25zM466.51 440.98h1.25v1.25h-1.25zM462.87 444.06h1.25v1.25h-1.25zM457.57 448.36h1.25v1.25h-1.25zM461.67 446.07h1.25v1.25h-1.25zM467.48 440.49h1.25v1.25h-1.25zM479.48 430.1h1.25v1.25h-1.25zM474.84 435.7h1.25v1.25h-1.25zM465.37 445.09h1.25v1.25h-1.25zM456.14 447.33h1.25v1.25h-1.25zM469.94 438.14h1.25v1.25h-1.25zM467.63 442.13h1.25v1.25h-1.25zM463.66 444.6h1.25v1.25h-1.25zM460.41 448.8h1.25v1.25h-1.25zM465.86 444.07h1.25v1.25h-1.25zM465.58 438.05h1.25v1.25h-1.25zM454.51 449.51h1.25v1.25h-1.25zM471.86 437.57h1.25v1.25h-1.25zM465.27 438.33h1.25v1.25h-1.25zM460.14 447.44h1.25v1.25h-1.25zM469.28 441.2h1.25v1.25h-1.25zM473.65 437.59h1.25v1.25h-1.25zM467.5 444.45h1.25v1.25h-1.25zM473.22 437.68h1.25v1.25h-1.25zM450.97 454.57h1.25v1.25h-1.25zM469 437.91h1.25v1.25h-1.25zM464.77 441.33h1.25v1.25h-1.25zM452.64 451.42h1.25v1.25h-1.25zM459.24 447.3h1.25v1.25h-1.25zM468.89 436.5h1.25v1.25h-1.25zM468.2 435.81h1.25v1.25h-1.25zM456.95 447.19h1.25v1.25h-1.25zM460.58 448.07h1.25v1.25h-1.25zM468.31 438.36h1.25v1.25h-1.25zM469.9 439.73h1.25v1.25h-1.25zM456.94 450.8h1.25v1.25h-1.25zM476.41 432.57h1.25v1.25h-1.25zM451.82 451.8h1.25v1.25h-1.25zM454.97 450.26h1.25v1.25h-1.25zM464.27 444.32h1.25v1.25h-1.25zM464.23 446.18h1.25v1.25h-1.25zM462.01 448.43h1.25v1.25h-1.25zM475.94 435.45h1.25v1.25h-1.25zM475.64 433.98h1.25v1.25h-1.25zM456.98 449.38h1.25v1.25h-1.25zM464.07 444.19h1.25v1.25h-1.25zM478.62 430.54h1.25v1.25h-1.25zM452.31 452.19h1.25v1.25h-1.25zM460.2 446.86h1.25v1.25h-1.25zM476.17 435.08h1.25v1.25h-1.25zM466.15 438.5h1.25v1.25h-1.25zM478.21 430.6h1.25v1.25h-1.25zM467 436.9h1.25v1.25h-1.25zM477.99 431.59h1.25v1.25h-1.25zM469.55 434.03h1.25v1.25h-1.25zM465.25 438.03h1.25v1.25h-1.25zM461.5 449.92h1.25v1.25h-1.25zM469.53 443.79h1.25v1.25h-1.25zM451.79 450.85h1.25v1.25h-1.25zM477.12 434.33h1.25v1.25h-1.25zM464.88 447.27h1.25v1.25h-1.25zM451.73 456.06h1.25v1.25h-1.25zM451.33 456.4h1.25v1.25h-1.25zM468.83 433.99h1.25v1.25h-1.25zM478.84 432.75h1.25v1.25h-1.25zM460.77 443.2h1.25v1.25h-1.25zM476.32 429.96h1.25v1.25h-1.25zM456.92 446.56h1.25v1.25h-1.25zM450.51 455.18h1.25v1.25h-1.25zM476.35 435.81h1.25v1.25h-1.25zM465.36 446.64h1.25v1.25h-1.25zM475.76 430.33h1.25v1.25h-1.25zM461.24 443.05h1.25v1.25h-1.25zM465.38 446.47h1.25v1.25h-1.25zM449.23 454.11h1.25v1.25h-1.25zM464.08 440.05h1.25v1.25h-1.25zM457.04 445.48h1.25v1.25h-1.25zM461.99 442.23h1.25v1.25h-1.25zM464.52 439.19h1.25v1.25h-1.25zM469.1 434.56h1.25v1.25h-1.25zM480.79 429.68h1.25v1.25h-1.25zM479.29 431.84h1.25v1.25h-1.25zM476.93 435.8h1.25v1.25h-1.25zM476.82 436.16h1.25v1.25h-1.25zM474.8 430.8h1.25v1.25h-1.25zM471.05 432.28h1.25v1.25h-1.25zM467.4 444.83h1.25v1.25h-1.25zM465.19 447.78h1.25v1.25h-1.25zM467.43 445.45h1.25v1.25h-1.25zM475.14 436.73h1.25v1.25h-1.25zM456.43 445.57h1.25v1.25h-1.25zM456.19 446.11h1.25v1.25h-1.25zM462.67 441.76h1.25v1.25h-1.25zM462.43 449.18h1.25v1.25h-1.25zM474.55 431.48h1.25v1.25h-1.25zM475.67 437.67h1.25v1.25h-1.25zM453.57 455.47h1.25v1.25h-1.25zM478.64 428.55h1.25v1.25h-1.25zM459.79 450.56h1.25v1.25h-1.25zM468.64 444.58h1.25v1.25h-1.25zM449.83 453.29h1.25v1.25h-1.25zM457.58 445.51h1.25v1.25h-1.25zM450.2 453.41h1.25v1.25h-1.25zM466.89 435.84h1.25v1.25h-1.25zM474.56 438.13h1.25v1.25h-1.25zM449.62 454.74h1.25v1.25h-1.25zM474.37 438.6h1.25v1.25h-1.25zM473.34 431.6h1.25v1.25h-1.25zM450.79 456.14h1.25v1.25h-1.25z" fill="#66b7d2"/>
<rect x="478.35" y="422.55" width="1.3" height="1.3" fill="#66b7d2" />
<rect x="479.55" y="422.55" width="1.3" height="1.3" fill="#66b7d2" />
<rect x="491.55" y="417.55" width="1.3" height="1.3" fill="#66b7d2" />
<rect x="448.65" y="449.05" width="1.3" height="1.3" fill="#66b7d2" />
<rect x="448.65" y="450.35" width="1.3" height="1.3" fill="#66b7d2" />
<rect x="459.25" y="441.65" width="1.3" height="1.3" fill="#66b7d2" />
<rect x="460.35" y="441.95" width="1.3" height="1.3" fill="#66b7d2" />
<rect x="482.55" y="427.35" width="1.3" height="1.3" fill="#66b7d2" />
<rect x="484.65" y="425.75" width="1.3" height="1.3" fill="#66b7d2" />
<rect x="485.85" y="424.85" width="1.3" height="1.3" fill="#66b7d2" />
<rect x="451.35" y="456.85" width="1.3" height="1.3" fill="#66b7d2" />
<line x1="436.6" y1="402.3" x2="439.7" y2="402.3" stroke="#2a2a2a" stroke-width="1" />
<text x="433.5" y="404.8" font-size="7.1" text-anchor="end" textLength="11.08" lengthAdjust="spacingAndGlyphs" >100</text>
<line x1="436.6" y1="420.1" x2="439.7" y2="420.1" stroke="#2a2a2a" stroke-width="1" />
<text x="433.5" y="422.6" font-size="7.1" text-anchor="end" textLength="3.69" lengthAdjust="spacingAndGlyphs" >1</text>
<line x1="436.6" y1="438.1" x2="439.7" y2="438.1" stroke="#2a2a2a" stroke-width="1" />
<text x="433.5" y="440.6" font-size="7.1" text-anchor="end" textLength="12.92" lengthAdjust="spacingAndGlyphs" >0.01</text>
<line x1="436.6" y1="456.1" x2="439.7" y2="456.1" stroke="#2a2a2a" stroke-width="1" />
<text x="433.5" y="458.6" font-size="7.1" text-anchor="end" textLength="20.3" lengthAdjust="spacingAndGlyphs" >0.0001</text>
<line x1="439.7" y1="398.8" x2="439.7" y2="472.1" stroke="#2a2a2a" stroke-width="1.6" />
<line x1="439.2" y1="471.5" x2="513.5" y2="471.5" stroke="#2a2a2a" stroke-width="1.4" />
<line x1="455.4" y1="471.5" x2="455.4" y2="474.5" stroke="#2a2a2a" stroke-width="1" />
<text transform="translate(458.6 481.6) rotate(-45)" font-size="7.6" text-anchor="end" textLength="20.63" lengthAdjust="spacingAndGlyphs">0.0001</text>
<line x1="472.7" y1="471.5" x2="472.7" y2="474.5" stroke="#2a2a2a" stroke-width="1" />
<text transform="translate(475.9 481.6) rotate(-45)" font-size="7.6" text-anchor="end" textLength="13.13" lengthAdjust="spacingAndGlyphs">0.01</text>
<line x1="490" y1="471.5" x2="490" y2="474.5" stroke="#2a2a2a" stroke-width="1" />
<text transform="translate(493.2 481.6) rotate(-45)" font-size="7.6" text-anchor="end" textLength="3.75" lengthAdjust="spacingAndGlyphs">1</text>
<line x1="506.9" y1="471.5" x2="506.9" y2="474.5" stroke="#2a2a2a" stroke-width="1" />
<text transform="translate(510.1 481.6) rotate(-45)" font-size="7.6" text-anchor="end" textLength="11.25" lengthAdjust="spacingAndGlyphs">100</text>
<text x="7.4" y="529.7" font-size="10.3" font-weight="bold" fill="#000" style="stroke:#000;stroke-width:0.4px" textLength="7.68" lengthAdjust="spacingAndGlyphs">G</text>
<text x="62.8" y="539.7" font-size="9.2" style="stroke-width:0" textLength="30.7" lengthAdjust="spacingAndGlyphs"><tspan font-style="italic">Tcra</tspan>-KO</text>
<text x="182.3" y="539.7" font-size="9.2" style="stroke-width:0" textLength="30.5" lengthAdjust="spacingAndGlyphs"><tspan font-style="italic">Tcra</tspan>-KO</text>
<text transform="translate(14.9 592.1) rotate(-90)" font-size="8.9" text-anchor="middle" textLength="70.5" lengthAdjust="spacingAndGlyphs">Mutant allele frequency</text>
<text transform="translate(25 592.1) rotate(-90)" font-size="8.9" text-anchor="middle" textLength="52.5" lengthAdjust="spacingAndGlyphs">(%leukemic cells)</text>
<text transform="translate(136.3 589.6) rotate(-90)" font-size="8.9" text-anchor="middle" textLength="46" lengthAdjust="spacingAndGlyphs">Mutation burden</text>
<text transform="translate(146.6 589.6) rotate(-90)" font-size="8.9" text-anchor="middle" textLength="88.5" lengthAdjust="spacingAndGlyphs">(%peripheral blood leukocytes)</text>
<text x="70.4" y="653.5" font-size="8.2" textLength="15" lengthAdjust="spacingAndGlyphs" >Days</text>
<text x="190.4" y="654.3" font-size="8.2" textLength="14" lengthAdjust="spacingAndGlyphs" >Days</text>
<rect x="48.5" y="553.9" width="59.5" height="76.1" fill="#c4d4e1" />
<clipPath id="cg1"><rect x="47" y="553.4" width="70" height="80"/></clipPath>
<g clip-path="url(#cg1)">
<polyline points="47.25,626.29 59.33,624 71.4,546.28" fill="none" stroke="#c8102e" stroke-width="1.2" stroke-linejoin="round" />
<polyline points="47.25,626.29 59.33,622.48 71.4,544.76" fill="none" stroke="#c8102e" stroke-width="1.2" stroke-linejoin="round" />
<polyline points="47.25,626.29 59.33,625.53 71.4,569.14 83.47,551.61" fill="none" stroke="#c8102e" stroke-width="1.2" stroke-linejoin="round" />
<polyline points="47.25,626.29 59.33,618.67 71.4,609.53 83.47,612.19 95.55,553.52" fill="none" stroke="#c8102e" stroke-width="1.2" stroke-linejoin="round" />
<polyline points="47.25,626.29 59.33,619.43 71.4,619.05 83.47,625.68 95.55,558.47 107.62,556.19" fill="none" stroke="#c8102e" stroke-width="1.2" stroke-linejoin="round" />
<polyline points="47.25,626.29 59.33,620.96 71.4,619.43 83.47,625.53 95.55,553.52" fill="none" stroke="#c8102e" stroke-width="1.2" stroke-linejoin="round" />
</g>
<line x1="44" y1="553.9" x2="47.4" y2="553.9" stroke="#2a2a2a" stroke-width="1" />
<text x="40.7" y="556.7" font-size="8.2" text-anchor="end" textLength="10.5" lengthAdjust="spacingAndGlyphs" >100</text>
<line x1="44" y1="592" x2="47.4" y2="592" stroke="#2a2a2a" stroke-width="1" />
<text x="40.7" y="594.8" font-size="8.2" text-anchor="end" textLength="7.7" lengthAdjust="spacingAndGlyphs" >50</text>
<line x1="44" y1="630.3" x2="47.4" y2="630.3" stroke="#2a2a2a" stroke-width="1" />
<text x="40.7" y="633.1" font-size="8.2" text-anchor="end" textLength="3.9" lengthAdjust="spacingAndGlyphs" >0</text>
<line x1="47.4" y1="549.6" x2="47.4" y2="630.9" stroke="#2a2a2a" stroke-width="1.6" />
<line x1="46.9" y1="630.3" x2="113" y2="630.3" stroke="#2a2a2a" stroke-width="1.4" />
<line x1="57.6" y1="630.3" x2="57.6" y2="633.5" stroke="#2a2a2a" stroke-width="1" />
<text x="57.6" y="641.7" font-size="8.2" text-anchor="middle" textLength="7.7" lengthAdjust="spacingAndGlyphs" >20</text>
<line x1="75" y1="630.3" x2="75" y2="633.5" stroke="#2a2a2a" stroke-width="1" />
<text x="75" y="641.7" font-size="8.2" text-anchor="middle" textLength="7.7" lengthAdjust="spacingAndGlyphs" >30</text>
<line x1="92.3" y1="630.3" x2="92.3" y2="633.5" stroke="#2a2a2a" stroke-width="1" />
<text x="92.3" y="641.7" font-size="8.2" text-anchor="middle" textLength="7.7" lengthAdjust="spacingAndGlyphs" >40</text>
<line x1="109.1" y1="630.3" x2="109.1" y2="633.5" stroke="#2a2a2a" stroke-width="1" />
<text x="109.1" y="641.7" font-size="8.2" text-anchor="middle" textLength="7.7" lengthAdjust="spacingAndGlyphs" >50</text>
<line x1="53.5" y1="548.5" x2="60.5" y2="548.5" stroke="#c8102e" stroke-width="1.2" />
<text x="63.5" y="550.6" font-size="7" style="stroke-width:0.05px" textLength="26.5" lengthAdjust="spacingAndGlyphs" >Relapsed</text>
<rect x="168.5" y="553.8" width="58.8" height="76.2" fill="#c4d4e1" />
<polyline points="167.5,627.53 179.4,630.4 191.3,574.87" fill="none" stroke="#c8102e" stroke-width="1.2" stroke-linejoin="round" />
<polyline points="179.4,630.4 191.3,586.36" fill="none" stroke="#c8102e" stroke-width="1.2" stroke-linejoin="round" />
<polyline points="179.4,630.4 191.3,607.42" fill="none" stroke="#c8102e" stroke-width="1.2" stroke-linejoin="round" />
<polyline points="167.5,628.49 179.4,630.4 191.3,628.49 201.33,593.06" fill="none" stroke="#c8102e" stroke-width="1.2" stroke-linejoin="round" />
<polyline points="203.2,630.4 215.1,625.61 227,573.91" fill="none" stroke="#c8102e" stroke-width="1.2" stroke-linejoin="round" />
<polyline points="203.2,630.4 215.1,585.4" fill="none" stroke="#c8102e" stroke-width="1.2" stroke-linejoin="round" />
<line x1="163.9" y1="553.8" x2="167.3" y2="553.8" stroke="#2a2a2a" stroke-width="1" />
<text x="160.6" y="556.6" font-size="8.2" text-anchor="end" textLength="7.7" lengthAdjust="spacingAndGlyphs" >80</text>
<line x1="163.9" y1="573" x2="167.3" y2="573" stroke="#2a2a2a" stroke-width="1" />
<text x="160.6" y="575.8" font-size="8.2" text-anchor="end" textLength="7.7" lengthAdjust="spacingAndGlyphs" >60</text>
<line x1="163.9" y1="592.2" x2="167.3" y2="592.2" stroke="#2a2a2a" stroke-width="1" />
<text x="160.6" y="595" font-size="8.2" text-anchor="end" textLength="7.7" lengthAdjust="spacingAndGlyphs" >40</text>
<line x1="163.9" y1="611.3" x2="167.3" y2="611.3" stroke="#2a2a2a" stroke-width="1" />
<text x="160.6" y="614.1" font-size="8.2" text-anchor="end" textLength="7.7" lengthAdjust="spacingAndGlyphs" >20</text>
<line x1="163.9" y1="630.4" x2="167.3" y2="630.4" stroke="#2a2a2a" stroke-width="1" />
<text x="160.6" y="633.2" font-size="8.2" text-anchor="end" textLength="3.9" lengthAdjust="spacingAndGlyphs" >0</text>
<line x1="167.3" y1="549.6" x2="167.3" y2="631" stroke="#2a2a2a" stroke-width="1.6" />
<line x1="166.8" y1="630.4" x2="233" y2="630.4" stroke="#2a2a2a" stroke-width="1.4" />
<line x1="177.7" y1="630.4" x2="177.7" y2="633.6" stroke="#2a2a2a" stroke-width="1" />
<text x="177.7" y="641.8" font-size="8.2" text-anchor="middle" textLength="7.7" lengthAdjust="spacingAndGlyphs" >20</text>
<line x1="194.3" y1="630.4" x2="194.3" y2="633.6" stroke="#2a2a2a" stroke-width="1" />
<text x="194.3" y="641.8" font-size="8.2" text-anchor="middle" textLength="7.7" lengthAdjust="spacingAndGlyphs" >30</text>
<line x1="211.6" y1="630.4" x2="211.6" y2="633.6" stroke="#2a2a2a" stroke-width="1" />
<text x="211.6" y="641.8" font-size="8.2" text-anchor="middle" textLength="7.7" lengthAdjust="spacingAndGlyphs" >40</text>
<line x1="228.5" y1="630.4" x2="228.5" y2="633.6" stroke="#2a2a2a" stroke-width="1" />
<text x="228.5" y="641.8" font-size="8.2" text-anchor="middle" textLength="7.7" lengthAdjust="spacingAndGlyphs" >50</text>
<text x="249.8" y="529.7" font-size="10.3" font-weight="bold" fill="#000" style="stroke:#000;stroke-width:0.4px" textLength="7.12" lengthAdjust="spacingAndGlyphs">H</text>
<text x="331.2" y="539.7" font-size="9.2" text-anchor="middle" style="stroke-width:0px" >B6</text>
<text x="472.9" y="539.4" font-size="9.2" text-anchor="middle" style="stroke-width:0px" >B6</text>
<text transform="translate(257 589.2) rotate(-90)" font-size="8.9" text-anchor="middle" textLength="70.5" lengthAdjust="spacingAndGlyphs">Mutant allele frequency</text>
<text transform="translate(266.7 589.2) rotate(-90)" font-size="8.9" text-anchor="middle" textLength="52.5" lengthAdjust="spacingAndGlyphs">(%leukemic cells)</text>
<text transform="translate(396.4 589.6) rotate(-90)" font-size="8.9" text-anchor="middle" textLength="46" lengthAdjust="spacingAndGlyphs">Mutation burden</text>
<text transform="translate(406.5 589.6) rotate(-90)" font-size="8.9" text-anchor="middle" textLength="88.5" lengthAdjust="spacingAndGlyphs">(%peripheral blood leukocytes)</text>
<text x="324.2" y="654.4" font-size="8.2" textLength="13.6" lengthAdjust="spacingAndGlyphs" >Days</text>
<text x="465.6" y="653.7" font-size="8.2" textLength="14" lengthAdjust="spacingAndGlyphs" >Days</text>
<rect x="291" y="553.8" width="58.6" height="76.2" fill="#c4d4e1" />
<polyline points="290.2,625.9 301.8,587 325,591.5 334,593 337.5,591.5 349.5,566.5 361.1,589.6" fill="none" stroke="#1c4f88" stroke-width="1.05" stroke-linejoin="round" />
<polyline points="290.2,625.9 302,618.5 313.5,604 325.5,604.5 337,585.5 349.5,604 361.5,588" fill="none" stroke="#1c4f88" stroke-width="1.05" stroke-linejoin="round" />
<polyline points="290.2,625.9 301.6,585.3 313.5,595 325,598 337,600 349.5,604 361,625.8" fill="none" stroke="#c8102e" stroke-width="1.05" stroke-linejoin="round" />
<polyline points="290.2,625.9 301.8,600 313.5,598 325,604.5 337,604 349.5,604 361.5,585.5" fill="none" stroke="#c8102e" stroke-width="1.05" stroke-linejoin="round" />
<polyline points="290.2,625.9 301.8,623.3 313.7,585.3 325,605.5 337,605 349.5,604 361,626" fill="none" stroke="#c8102e" stroke-width="1.05" stroke-linejoin="round" />
<polyline points="290.2,625.9 302.7,617.2 313.7,593 325,594.5 337,601 349.5,603.5 361,625" fill="none" stroke="#c8102e" stroke-width="1.05" stroke-linejoin="round" />
<line x1="286.7" y1="553.8" x2="290.1" y2="553.8" stroke="#2a2a2a" stroke-width="1" />
<text x="283.4" y="556.6" font-size="8.2" text-anchor="end" textLength="10.5" lengthAdjust="spacingAndGlyphs" >100</text>
<line x1="286.7" y1="592.3" x2="290.1" y2="592.3" stroke="#2a2a2a" stroke-width="1" />
<text x="283.4" y="595.1" font-size="8.2" text-anchor="end" textLength="7.7" lengthAdjust="spacingAndGlyphs" >50</text>
<line x1="286.7" y1="630.4" x2="290.1" y2="630.4" stroke="#2a2a2a" stroke-width="1" />
<text x="283.4" y="633.2" font-size="8.2" text-anchor="end" textLength="3.9" lengthAdjust="spacingAndGlyphs" >0</text>
<line x1="290.1" y1="550.1" x2="290.1" y2="631" stroke="#2a2a2a" stroke-width="1.6" />
<line x1="289.6" y1="630.4" x2="372.7" y2="630.4" stroke="#2a2a2a" stroke-width="1.4" />
<line x1="300.5" y1="630.4" x2="300.5" y2="633.6" stroke="#2a2a2a" stroke-width="1" />
<text x="300.5" y="641.8" font-size="8.2" text-anchor="middle" textLength="7.7" lengthAdjust="spacingAndGlyphs" >20</text>
<line x1="317.3" y1="630.4" x2="317.3" y2="633.6" stroke="#2a2a2a" stroke-width="1" />
<text x="317.3" y="641.8" font-size="8.2" text-anchor="middle" textLength="7.7" lengthAdjust="spacingAndGlyphs" >30</text>
<line x1="334.2" y1="630.4" x2="334.2" y2="633.6" stroke="#2a2a2a" stroke-width="1" />
<text x="334.2" y="641.8" font-size="8.2" text-anchor="middle" textLength="7.7" lengthAdjust="spacingAndGlyphs" >40</text>
<line x1="351.2" y1="630.4" x2="351.2" y2="633.6" stroke="#2a2a2a" stroke-width="1" />
<text x="351.2" y="641.8" font-size="8.2" text-anchor="middle" textLength="7.7" lengthAdjust="spacingAndGlyphs" >50</text>
<line x1="368.1" y1="630.4" x2="368.1" y2="633.6" stroke="#2a2a2a" stroke-width="1" />
<text x="368.1" y="641.8" font-size="8.2" text-anchor="middle" textLength="7.7" lengthAdjust="spacingAndGlyphs" >60</text>
<line x1="295.4" y1="548.9" x2="302.8" y2="548.9" stroke="#1c4f88" stroke-width="1.2" />
<text x="305.8" y="550.9" font-size="7" style="stroke-width:0.05px" textLength="17.7" lengthAdjust="spacingAndGlyphs" >Cured</text>
<line x1="329.5" y1="548.9" x2="336.9" y2="548.9" stroke="#c8102e" stroke-width="1.2" />
<text x="339.7" y="550.9" font-size="7" style="stroke-width:0.05px" textLength="26.5" lengthAdjust="spacingAndGlyphs" >Relapsed</text>
<rect x="432.2" y="553.8" width="58.7" height="21" fill="#c4d4e1" />
<rect x="432.2" y="578.4" width="58.7" height="51.6" fill="#c4d4e1" />
<clipPath id="ch2lo"><rect x="431" y="578.4" width="90" height="53"/></clipPath>
<clipPath id="ch2hi"><rect x="431" y="549" width="90" height="25.8"/></clipPath>
<g clip-path="url(#ch2lo)">
<polyline points="433,570 443.2,609 454.4,628.1 490.8,627.7 502.2,627.2" fill="none" stroke="#1c4f88" stroke-width="1.05" stroke-linejoin="round" />
<polyline points="440.8,570 454.4,628.1 478,628.8 490.8,627 502.5,627.5" fill="none" stroke="#1c4f88" stroke-width="1.05" stroke-linejoin="round" />
<polyline points="441.8,570 455.3,628.8 490.8,628.5 502.5,627.2" fill="none" stroke="#1c4f88" stroke-width="1.05" stroke-linejoin="round" />
<polyline points="432,570 442.3,628.1 455.3,629.5 490.8,629.5" fill="none" stroke="#c8102e" stroke-width="1.05" stroke-linejoin="round" />
<polyline points="443.2,570 455.3,625.5 460.5,627.2 467.4,623.2 478.7,626 490.8,621.2 501.4,584.5" fill="none" stroke="#c8102e" stroke-width="1.05" stroke-linejoin="round" />
<polyline points="454,574 467.4,593.5 490.6,608.6 498.4,581.5 502.7,561.1" fill="none" stroke="#c8102e" stroke-width="1.05" stroke-linejoin="round" />
<polyline points="479.2,626.8 490.6,604.5 498.8,581.5" fill="none" stroke="#c8102e" stroke-width="1.05" stroke-linejoin="round" />
</g>
<g clip-path="url(#ch2hi)">
<polyline points="431.6,559.4 442.7,574.3 443.5,575.5" fill="none" stroke="#1c4f88" stroke-width="1.05" stroke-linejoin="round" />
<polyline points="431.6,561.8 442.2,574.3 443,575.5" fill="none" stroke="#1c4f88" stroke-width="1.05" stroke-linejoin="round" />
<polyline points="431.6,562.8 443.2,567.6 444.8,575.5" fill="none" stroke="#c8102e" stroke-width="1.05" stroke-linejoin="round" />
<polyline points="431.6,564.7 442.7,573.8 455.2,574.8" fill="none" stroke="#c8102e" stroke-width="1.05" stroke-linejoin="round" />
<polyline points="431.4,565 433.6,576" fill="none" stroke="#c8102e" stroke-width="1.05" stroke-linejoin="round" />
<polyline points="498.4,581.5 502.7,561.1" fill="none" stroke="#c8102e" stroke-width="1.05" stroke-linejoin="round" />
</g>
<line x1="427.8" y1="580.4" x2="431.2" y2="580.4" stroke="#2a2a2a" stroke-width="1" />
<text x="425" y="583.2" font-size="8.2" text-anchor="end" textLength="13.4" lengthAdjust="spacingAndGlyphs" >0.10</text>
<line x1="427.8" y1="590.5" x2="431.2" y2="590.5" stroke="#2a2a2a" stroke-width="1" />
<text x="425" y="593.3" font-size="8.2" text-anchor="end" textLength="13.4" lengthAdjust="spacingAndGlyphs" >0.08</text>
<line x1="427.8" y1="600.6" x2="431.2" y2="600.6" stroke="#2a2a2a" stroke-width="1" />
<text x="425" y="603.4" font-size="8.2" text-anchor="end" textLength="13.4" lengthAdjust="spacingAndGlyphs" >0.06</text>
<line x1="427.8" y1="610.6" x2="431.2" y2="610.6" stroke="#2a2a2a" stroke-width="1" />
<text x="425" y="613.4" font-size="8.2" text-anchor="end" textLength="13.4" lengthAdjust="spacingAndGlyphs" >0.04</text>
<line x1="427.8" y1="620.7" x2="431.2" y2="620.7" stroke="#2a2a2a" stroke-width="1" />
<text x="425" y="623.5" font-size="8.2" text-anchor="end" textLength="13.4" lengthAdjust="spacingAndGlyphs" >0.02</text>
<line x1="427.8" y1="630.8" x2="431.2" y2="630.8" stroke="#2a2a2a" stroke-width="1" />
<text x="425" y="633.6" font-size="8.2" text-anchor="end" textLength="13.4" lengthAdjust="spacingAndGlyphs" >0.00</text>
<line x1="427.8" y1="553.7" x2="431.2" y2="553.7" stroke="#2a2a2a" stroke-width="1" />
<text transform="translate(424.8 553.7) rotate(-90)" font-size="4.8" text-anchor="middle">4</text>
<line x1="427.8" y1="559.1" x2="431.2" y2="559.1" stroke="#2a2a2a" stroke-width="1" />
<text transform="translate(424.8 559.1) rotate(-90)" font-size="4.8" text-anchor="middle">3</text>
<line x1="427.8" y1="564.5" x2="431.2" y2="564.5" stroke="#2a2a2a" stroke-width="1" />
<text transform="translate(424.8 564.5) rotate(-90)" font-size="4.8" text-anchor="middle">2</text>
<line x1="427.8" y1="569.9" x2="431.2" y2="569.9" stroke="#2a2a2a" stroke-width="1" />
<text transform="translate(424.8 569.9) rotate(-90)" font-size="4.8" text-anchor="middle">1</text>
<line x1="431.2" y1="549.8" x2="431.2" y2="574.4" stroke="#2a2a2a" stroke-width="1.6" />
<line x1="431.2" y1="580.8" x2="431.2" y2="631" stroke="#2a2a2a" stroke-width="1.6" />
<line x1="429" y1="577.5" x2="433.3" y2="573.2" stroke="#111" stroke-width="1.3" />
<line x1="429" y1="578.6" x2="433.3" y2="582.9" stroke="#111" stroke-width="1.3" />
<line x1="430.7" y1="630.8" x2="513.8" y2="630.8" stroke="#2a2a2a" stroke-width="1.4" />
<line x1="441.4" y1="630.8" x2="441.4" y2="634" stroke="#2a2a2a" stroke-width="1" />
<text x="441.4" y="642.2" font-size="8.2" text-anchor="middle" textLength="7.7" lengthAdjust="spacingAndGlyphs" >20</text>
<line x1="458.6" y1="630.8" x2="458.6" y2="634" stroke="#2a2a2a" stroke-width="1" />
<text x="458.6" y="642.2" font-size="8.2" text-anchor="middle" textLength="7.7" lengthAdjust="spacingAndGlyphs" >30</text>
<line x1="475.6" y1="630.8" x2="475.6" y2="634" stroke="#2a2a2a" stroke-width="1" />
<text x="475.6" y="642.2" font-size="8.2" text-anchor="middle" textLength="7.7" lengthAdjust="spacingAndGlyphs" >40</text>
<line x1="492.5" y1="630.8" x2="492.5" y2="634" stroke="#2a2a2a" stroke-width="1" />
<text x="492.5" y="642.2" font-size="8.2" text-anchor="middle" textLength="7.7" lengthAdjust="spacingAndGlyphs" >50</text>
<line x1="509.8" y1="630.8" x2="509.8" y2="634" stroke="#2a2a2a" stroke-width="1" />
<text x="509.8" y="642.2" font-size="8.2" text-anchor="middle" textLength="7.7" lengthAdjust="spacingAndGlyphs" >60</text>
<rect x="0.55" y="0.55" width="518.9" height="659.9" fill="none" stroke="#000" stroke-width="1.1"/>
</svg>
</body></html>
